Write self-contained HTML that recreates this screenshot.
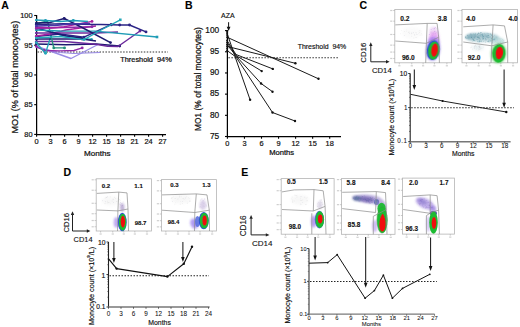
<!DOCTYPE html>
<html><head><meta charset="utf-8"><title>Figure</title>
<style>html,body{margin:0;padding:0;background:#fff;width:520px;height:327px;overflow:hidden}svg{display:block}text{font-family:"Liberation Sans",sans-serif}</style>
</head><body>
<svg width="520" height="327" viewBox="0 0 520 327" font-family='"Liberation Sans", sans-serif'>
<defs><filter id="b0" x="-60%" y="-60%" width="220%" height="220%"><feGaussianBlur stdDeviation="1.50"/></filter><filter id="b1" x="-60%" y="-60%" width="220%" height="220%"><feGaussianBlur stdDeviation="1.20"/></filter><filter id="b2" x="-60%" y="-60%" width="220%" height="220%"><feGaussianBlur stdDeviation="1.00"/></filter><filter id="b3" x="-60%" y="-60%" width="220%" height="220%"><feGaussianBlur stdDeviation="0.90"/></filter><filter id="b4" x="-60%" y="-60%" width="220%" height="220%"><feGaussianBlur stdDeviation="0.80"/></filter><filter id="b5" x="-60%" y="-60%" width="220%" height="220%"><feGaussianBlur stdDeviation="0.60"/></filter><filter id="b6" x="-60%" y="-60%" width="220%" height="220%"><feGaussianBlur stdDeviation="0.50"/></filter><filter id="b7" x="-60%" y="-60%" width="220%" height="220%"><feGaussianBlur stdDeviation="0.45"/></filter><filter id="b8" x="-60%" y="-60%" width="220%" height="220%"><feGaussianBlur stdDeviation="1.30"/></filter><filter id="b9" x="-60%" y="-60%" width="220%" height="220%"><feGaussianBlur stdDeviation="0.40"/></filter><filter id="b10" x="-60%" y="-60%" width="220%" height="220%"><feGaussianBlur stdDeviation="0.70"/></filter><filter id="b11" x="-60%" y="-60%" width="220%" height="220%"><feGaussianBlur stdDeviation="1.10"/></filter></defs>
<rect width="520" height="327" fill="#fff"/>
<text x="1.20" y="9.40" font-size="10.5" text-anchor="start" font-weight="bold" fill="#000" stroke="#000" stroke-width="0.12" >A</text>
<line x1="36.60" y1="15.00" x2="36.60" y2="135.10" stroke="#000" stroke-width="1.25" />
<line x1="36.00" y1="134.50" x2="166.00" y2="134.50" stroke="#000" stroke-width="1.25" />
<line x1="34.20" y1="15.50" x2="36.60" y2="15.50" stroke="#000" stroke-width="1.1" />
<text x="32.60" y="18.00" font-size="7.4" text-anchor="end" font-weight="normal" fill="#111" stroke="#111" stroke-width="0.2" >100</text>
<line x1="34.20" y1="45.23" x2="36.60" y2="45.23" stroke="#000" stroke-width="1.1" />
<text x="32.60" y="47.73" font-size="7.4" text-anchor="end" font-weight="normal" fill="#111" stroke="#111" stroke-width="0.2" >95</text>
<line x1="34.20" y1="74.95" x2="36.60" y2="74.95" stroke="#000" stroke-width="1.1" />
<text x="32.60" y="77.45" font-size="7.4" text-anchor="end" font-weight="normal" fill="#111" stroke="#111" stroke-width="0.2" >90</text>
<line x1="34.20" y1="104.68" x2="36.60" y2="104.68" stroke="#000" stroke-width="1.1" />
<text x="32.60" y="107.18" font-size="7.4" text-anchor="end" font-weight="normal" fill="#111" stroke="#111" stroke-width="0.2" >85</text>
<line x1="34.20" y1="134.40" x2="36.60" y2="134.40" stroke="#000" stroke-width="1.1" />
<text x="32.60" y="136.90" font-size="7.4" text-anchor="end" font-weight="normal" fill="#111" stroke="#111" stroke-width="0.2" >80</text>
<line x1="36.60" y1="134.50" x2="36.60" y2="136.70" stroke="#000" stroke-width="1.1" />
<text x="36.60" y="143.60" font-size="7.4" text-anchor="middle" font-weight="normal" fill="#111" stroke="#111" stroke-width="0.2" >0</text>
<line x1="50.60" y1="134.50" x2="50.60" y2="136.70" stroke="#000" stroke-width="1.1" />
<text x="50.60" y="143.60" font-size="7.4" text-anchor="middle" font-weight="normal" fill="#111" stroke="#111" stroke-width="0.2" >3</text>
<line x1="64.60" y1="134.50" x2="64.60" y2="136.70" stroke="#000" stroke-width="1.1" />
<text x="64.60" y="143.60" font-size="7.4" text-anchor="middle" font-weight="normal" fill="#111" stroke="#111" stroke-width="0.2" >6</text>
<line x1="78.60" y1="134.50" x2="78.60" y2="136.70" stroke="#000" stroke-width="1.1" />
<text x="78.60" y="143.60" font-size="7.4" text-anchor="middle" font-weight="normal" fill="#111" stroke="#111" stroke-width="0.2" >9</text>
<line x1="92.60" y1="134.50" x2="92.60" y2="136.70" stroke="#000" stroke-width="1.1" />
<text x="92.60" y="143.60" font-size="7.4" text-anchor="middle" font-weight="normal" fill="#111" stroke="#111" stroke-width="0.2" >12</text>
<line x1="106.60" y1="134.50" x2="106.60" y2="136.70" stroke="#000" stroke-width="1.1" />
<text x="106.60" y="143.60" font-size="7.4" text-anchor="middle" font-weight="normal" fill="#111" stroke="#111" stroke-width="0.2" >15</text>
<line x1="120.60" y1="134.50" x2="120.60" y2="136.70" stroke="#000" stroke-width="1.1" />
<text x="120.60" y="143.60" font-size="7.4" text-anchor="middle" font-weight="normal" fill="#111" stroke="#111" stroke-width="0.2" >18</text>
<line x1="134.60" y1="134.50" x2="134.60" y2="136.70" stroke="#000" stroke-width="1.1" />
<text x="134.60" y="143.60" font-size="7.4" text-anchor="middle" font-weight="normal" fill="#111" stroke="#111" stroke-width="0.2" >21</text>
<line x1="148.60" y1="134.50" x2="148.60" y2="136.70" stroke="#000" stroke-width="1.1" />
<text x="148.60" y="143.60" font-size="7.4" text-anchor="middle" font-weight="normal" fill="#111" stroke="#111" stroke-width="0.2" >24</text>
<line x1="162.60" y1="134.50" x2="162.60" y2="136.70" stroke="#000" stroke-width="1.1" />
<text x="162.60" y="143.60" font-size="7.4" text-anchor="middle" font-weight="normal" fill="#111" stroke="#111" stroke-width="0.2" >27</text>
<text x="97.20" y="155.60" font-size="8.1" text-anchor="middle" font-weight="normal" fill="#111" stroke="#111" stroke-width="0.24" >Months</text>
<text transform="translate(15.00,77.20) rotate(-90)" x="0" y="0" font-size="9.1" text-anchor="middle" font-weight="normal" fill="#111" stroke="#111" stroke-width="0.24" dominant-baseline="central">MO1 (% of total monocytes)</text>
<line x1="37.60" y1="52.00" x2="168.00" y2="52.00" stroke="#333" stroke-width="1.1" stroke-dasharray="1.5 1.45"/>
<text x="120.30" y="62.10" font-size="7.35" text-anchor="start" font-weight="normal" fill="#111" stroke="#111" stroke-width="0.24" >Threshold&#160;&#160;94%</text>
<polyline points="36.00,46.00 71.00,58.50 98.00,44.50" fill="none" stroke="#9a8ce6" stroke-width="1.344" stroke-linejoin="round" />
<polyline points="36.00,47.50 60.00,52.50 74.00,53.50 100.00,52.50" fill="none" stroke="#9a8ce6" stroke-width="1.12" stroke-linejoin="round" />
<polyline points="36.00,44.00 66.00,44.80 96.00,44.00 119.70,46.00" fill="none" stroke="#1e1a70" stroke-width="1.4560000000000002" stroke-linejoin="round" />
<circle cx="36.30" cy="44.00" r="1.35" fill="#1e1a70"/>
<circle cx="119.70" cy="46.00" r="1.45" fill="#1e1a70"/>
<polyline points="36.00,41.50 64.00,41.50 96.00,44.20 107.50,46.20 118.00,46.50 140.00,31.00" fill="none" stroke="#6c2a9c" stroke-width="1.4560000000000002" stroke-linejoin="round" />
<circle cx="36.30" cy="41.50" r="1.35" fill="#6c2a9c"/>
<circle cx="140.00" cy="31.00" r="1.45" fill="#6c2a9c"/>
<polyline points="36.00,46.50 44.00,50.50 60.00,50.80 74.00,50.50 82.20,47.90" fill="none" stroke="#8f2aa8" stroke-width="1.344" stroke-linejoin="round" />
<circle cx="36.30" cy="46.50" r="1.35" fill="#8f2aa8"/>
<circle cx="44.00" cy="50.50" r="1.45" fill="#8f2aa8"/>
<circle cx="82.20" cy="47.90" r="1.45" fill="#8f2aa8"/>
<polyline points="36.00,42.50 45.50,53.20 52.30,31.80 60.00,35.00 91.50,39.50" fill="none" stroke="#24a7b8" stroke-width="1.344" stroke-linejoin="round" />
<circle cx="36.30" cy="42.50" r="1.35" fill="#24a7b8"/>
<circle cx="45.50" cy="53.20" r="1.45" fill="#24a7b8"/>
<circle cx="91.50" cy="39.50" r="1.45" fill="#24a7b8"/>
<polyline points="36.00,39.00 66.00,39.00 82.10,39.00 96.00,41.00" fill="none" stroke="#1e1a70" stroke-width="1.4560000000000002" stroke-linejoin="round" />
<circle cx="36.30" cy="39.00" r="1.35" fill="#1e1a70"/>
<circle cx="82.10" cy="39.00" r="1.45" fill="#1e1a70"/>
<polyline points="36.00,24.00 47.50,21.00 53.80,47.90 64.50,47.90" fill="none" stroke="#23907a" stroke-width="1.344" stroke-linejoin="round" />
<circle cx="36.30" cy="24.00" r="1.35" fill="#23907a"/>
<circle cx="53.80" cy="47.90" r="1.45" fill="#23907a"/>
<circle cx="64.50" cy="47.90" r="1.45" fill="#23907a"/>
<polyline points="36.00,36.50 60.00,34.00 84.00,37.10 111.10,24.70" fill="none" stroke="#2a2385" stroke-width="1.4560000000000002" stroke-linejoin="round" />
<circle cx="36.30" cy="36.50" r="1.35" fill="#2a2385"/>
<circle cx="84.00" cy="37.10" r="1.45" fill="#2a2385"/>
<circle cx="111.10" cy="24.70" r="1.45" fill="#2a2385"/>
<polyline points="36.00,36.00 50.00,34.00 66.00,30.00 80.00,28.00 96.00,26.00" fill="none" stroke="#a8209f" stroke-width="1.4560000000000002" stroke-linejoin="round" />
<circle cx="36.30" cy="36.00" r="1.35" fill="#a8209f"/>
<polyline points="36.00,33.00 66.00,33.00 96.00,33.00 118.00,32.00" fill="none" stroke="#6c2a9c" stroke-width="1.344" stroke-linejoin="round" />
<circle cx="36.30" cy="33.00" r="1.35" fill="#6c2a9c"/>
<polyline points="36.00,28.00 66.00,36.00 82.00,38.00" fill="none" stroke="#1e1a70" stroke-width="1.4560000000000002" stroke-linejoin="round" />
<circle cx="36.30" cy="28.00" r="1.35" fill="#1e1a70"/>
<polyline points="36.00,30.00 60.00,31.00 95.00,31.10 157.00,37.00" fill="none" stroke="#1f9cb6" stroke-width="1.344" stroke-linejoin="round" />
<circle cx="36.30" cy="30.00" r="1.35" fill="#1f9cb6"/>
<rect x="155.70" y="35.70" width="2.6" height="2.6" fill="#1f9cb6"/>
<polyline points="36.00,28.50 64.00,27.50 92.00,26.70" fill="none" stroke="#8f2aa8" stroke-width="1.4560000000000002" stroke-linejoin="round" />
<circle cx="36.30" cy="28.50" r="1.35" fill="#8f2aa8"/>
<circle cx="92.00" cy="26.70" r="1.45" fill="#8f2aa8"/>
<polyline points="36.00,27.00 50.00,28.00 64.00,26.70 92.00,21.40" fill="none" stroke="#a8209f" stroke-width="1.4560000000000002" stroke-linejoin="round" />
<circle cx="36.30" cy="27.00" r="1.35" fill="#a8209f"/>
<circle cx="92.00" cy="21.40" r="1.45" fill="#a8209f"/>
<polyline points="36.00,24.50 64.00,23.80 94.00,24.40 101.00,24.40 111.10,24.80 119.70,25.00 129.50,25.00 146.00,31.90" fill="none" stroke="#2a2385" stroke-width="1.4560000000000002" stroke-linejoin="round" />
<circle cx="36.30" cy="24.50" r="1.35" fill="#2a2385"/>
<circle cx="111.10" cy="24.80" r="1.45" fill="#2a2385"/>
<circle cx="119.70" cy="25.00" r="1.45" fill="#2a2385"/>
<circle cx="129.50" cy="25.00" r="1.45" fill="#2a2385"/>
<circle cx="146.00" cy="31.90" r="1.45" fill="#2a2385"/>
<polyline points="36.00,23.00 50.00,22.50 64.20,18.50 84.00,28.50 110.50,42.60" fill="none" stroke="#1e1a70" stroke-width="1.568" stroke-linejoin="round" />
<circle cx="36.30" cy="23.00" r="1.35" fill="#1e1a70"/>
<circle cx="64.20" cy="18.50" r="1.45" fill="#1e1a70"/>
<circle cx="110.50" cy="42.60" r="1.45" fill="#1e1a70"/>
<polyline points="36.00,26.00 55.00,25.50 70.00,24.00 90.00,23.50" fill="none" stroke="#4a35a8" stroke-width="1.344" stroke-linejoin="round" />
<circle cx="36.30" cy="26.00" r="1.35" fill="#4a35a8"/>
<polyline points="36.00,20.00 45.50,20.40 60.00,21.50 73.30,20.40 88.00,21.50" fill="none" stroke="#1f9cb6" stroke-width="1.4560000000000002" stroke-linejoin="round" />
<circle cx="36.30" cy="20.00" r="1.35" fill="#1f9cb6"/>
<circle cx="45.50" cy="20.40" r="1.45" fill="#1f9cb6"/>
<circle cx="73.30" cy="20.40" r="1.45" fill="#1f9cb6"/>
<polyline points="36.00,38.00 60.00,36.50 84.00,39.60 102.00,29.50 120.30,19.80" fill="none" stroke="#24a7b8" stroke-width="1.344" stroke-linejoin="round" />
<circle cx="36.30" cy="38.00" r="1.35" fill="#24a7b8"/>
<circle cx="84.00" cy="39.60" r="1.45" fill="#24a7b8"/>
<rect x="119.00" y="18.50" width="2.6" height="2.6" fill="#24a7b8"/>
<text x="185.00" y="9.40" font-size="10.5" text-anchor="start" font-weight="bold" fill="#000" stroke="#000" stroke-width="0.12" >B</text>
<line x1="227.40" y1="30.10" x2="227.40" y2="137.10" stroke="#000" stroke-width="1.25" />
<line x1="226.80" y1="136.50" x2="341.00" y2="136.50" stroke="#000" stroke-width="1.25" />
<line x1="225.00" y1="30.60" x2="227.40" y2="30.60" stroke="#000" stroke-width="1.1" />
<text x="219.20" y="32.90" font-size="8.3" text-anchor="end" font-weight="normal" fill="#111" stroke="#111" stroke-width="0.2" >100</text>
<line x1="225.00" y1="51.78" x2="227.40" y2="51.78" stroke="#000" stroke-width="1.1" />
<text x="219.20" y="54.08" font-size="8.3" text-anchor="end" font-weight="normal" fill="#111" stroke="#111" stroke-width="0.2" >95</text>
<line x1="225.00" y1="72.96" x2="227.40" y2="72.96" stroke="#000" stroke-width="1.1" />
<text x="219.20" y="75.26" font-size="8.3" text-anchor="end" font-weight="normal" fill="#111" stroke="#111" stroke-width="0.2" >90</text>
<line x1="225.00" y1="94.14" x2="227.40" y2="94.14" stroke="#000" stroke-width="1.1" />
<text x="219.20" y="96.44" font-size="8.3" text-anchor="end" font-weight="normal" fill="#111" stroke="#111" stroke-width="0.2" >85</text>
<line x1="225.00" y1="115.32" x2="227.40" y2="115.32" stroke="#000" stroke-width="1.1" />
<text x="219.20" y="117.62" font-size="8.3" text-anchor="end" font-weight="normal" fill="#111" stroke="#111" stroke-width="0.2" >80</text>
<line x1="225.00" y1="136.50" x2="227.40" y2="136.50" stroke="#000" stroke-width="1.1" />
<text x="219.20" y="138.80" font-size="8.3" text-anchor="end" font-weight="normal" fill="#111" stroke="#111" stroke-width="0.2" >75</text>
<line x1="227.40" y1="136.50" x2="227.40" y2="138.70" stroke="#000" stroke-width="1.1" />
<text x="227.40" y="145.80" font-size="7.4" text-anchor="middle" font-weight="normal" fill="#111" stroke="#111" stroke-width="0.2" >0</text>
<line x1="244.45" y1="136.50" x2="244.45" y2="138.70" stroke="#000" stroke-width="1.1" />
<text x="244.45" y="145.80" font-size="7.4" text-anchor="middle" font-weight="normal" fill="#111" stroke="#111" stroke-width="0.2" >3</text>
<line x1="261.50" y1="136.50" x2="261.50" y2="138.70" stroke="#000" stroke-width="1.1" />
<text x="261.50" y="145.80" font-size="7.4" text-anchor="middle" font-weight="normal" fill="#111" stroke="#111" stroke-width="0.2" >6</text>
<line x1="278.55" y1="136.50" x2="278.55" y2="138.70" stroke="#000" stroke-width="1.1" />
<text x="278.55" y="145.80" font-size="7.4" text-anchor="middle" font-weight="normal" fill="#111" stroke="#111" stroke-width="0.2" >9</text>
<line x1="295.60" y1="136.50" x2="295.60" y2="138.70" stroke="#000" stroke-width="1.1" />
<text x="295.60" y="145.80" font-size="7.4" text-anchor="middle" font-weight="normal" fill="#111" stroke="#111" stroke-width="0.2" >12</text>
<line x1="312.65" y1="136.50" x2="312.65" y2="138.70" stroke="#000" stroke-width="1.1" />
<text x="312.65" y="145.80" font-size="7.4" text-anchor="middle" font-weight="normal" fill="#111" stroke="#111" stroke-width="0.2" >15</text>
<line x1="329.70" y1="136.50" x2="329.70" y2="138.70" stroke="#000" stroke-width="1.1" />
<text x="329.70" y="145.80" font-size="7.4" text-anchor="middle" font-weight="normal" fill="#111" stroke="#111" stroke-width="0.2" >18</text>
<text x="281.60" y="155.30" font-size="7.6" text-anchor="middle" font-weight="normal" fill="#111" stroke="#111" stroke-width="0.24" >Months</text>
<text transform="translate(198.40,79.00) rotate(-90)" x="0" y="0" font-size="8.4" text-anchor="middle" font-weight="normal" fill="#111" stroke="#111" stroke-width="0.24" dominant-baseline="central">MO1 (% of total monocytes)</text>
<text x="227.90" y="17.50" font-size="7.0" text-anchor="middle" font-weight="normal" fill="#111" stroke="#111" stroke-width="0.15" >AZA</text>
<line x1="228.60" y1="22.20" x2="228.60" y2="27.20" stroke="#111" stroke-width="1" />
<polygon points="226.70,26.70 230.50,26.70 228.60,30.90" fill="#111"/>
<line x1="228.40" y1="57.80" x2="339.00" y2="57.80" stroke="#333" stroke-width="1.1" stroke-dasharray="1.5 1.5"/>
<text x="297.70" y="49.00" font-size="6.95" text-anchor="start" font-weight="normal" fill="#111" stroke="#111" stroke-width="0.15" >Threshold&#160;&#160;94%</text>
<polyline points="227.00,37.20 318.50,78.80" fill="none" stroke="#1a1a1a" stroke-width="1.0" stroke-linejoin="round" />
<circle cx="318.50" cy="78.80" r="1.2" fill="#111"/>
<polyline points="227.00,46.40 295.40,63.30" fill="none" stroke="#1a1a1a" stroke-width="1.0" stroke-linejoin="round" />
<circle cx="295.40" cy="63.30" r="1.2" fill="#111"/>
<polyline points="227.00,40.50 236.00,54.50 272.80,68.90" fill="none" stroke="#1a1a1a" stroke-width="1.0" stroke-linejoin="round" />
<circle cx="272.80" cy="68.90" r="1.2" fill="#111"/>
<polyline points="227.00,42.50 236.00,55.50 261.70,71.10" fill="none" stroke="#1a1a1a" stroke-width="1.0" stroke-linejoin="round" />
<circle cx="261.70" cy="71.10" r="1.2" fill="#111"/>
<polyline points="227.00,44.50 236.50,56.50 261.10,83.50 272.50,91.70" fill="none" stroke="#1a1a1a" stroke-width="1.0" stroke-linejoin="round" />
<circle cx="261.10" cy="83.50" r="1.2" fill="#111"/>
<circle cx="272.50" cy="91.70" r="1.2" fill="#111"/>
<polyline points="227.00,33.00 235.00,56.50 250.10,99.80" fill="none" stroke="#1a1a1a" stroke-width="1.0" stroke-linejoin="round" />
<circle cx="250.10" cy="99.80" r="1.2" fill="#111"/>
<polyline points="227.00,50.50 236.00,57.00 272.50,112.50 295.00,121.00" fill="none" stroke="#1a1a1a" stroke-width="1.0" stroke-linejoin="round" />
<circle cx="272.50" cy="112.50" r="1.2" fill="#111"/>
<circle cx="295.00" cy="121.00" r="1.2" fill="#111"/>
<circle cx="227.20" cy="31.50" r="1.05" fill="#111"/>
<circle cx="227.20" cy="33.00" r="1.05" fill="#111"/>
<circle cx="227.20" cy="35.00" r="1.05" fill="#111"/>
<circle cx="227.20" cy="37.20" r="1.05" fill="#111"/>
<circle cx="227.20" cy="40.50" r="1.05" fill="#111"/>
<circle cx="227.20" cy="42.50" r="1.05" fill="#111"/>
<circle cx="227.20" cy="44.50" r="1.05" fill="#111"/>
<circle cx="227.20" cy="46.40" r="1.05" fill="#111"/>
<circle cx="227.20" cy="48.50" r="1.05" fill="#111"/>
<circle cx="227.20" cy="50.50" r="1.05" fill="#111"/>
<text x="359.40" y="9.40" font-size="10.5" text-anchor="start" font-weight="bold" fill="#000" stroke="#000" stroke-width="0.12" >C</text>
<rect x="394.80" y="9.50" width="56.60" height="53.30" fill="#fff" stroke="#b4b4b4" stroke-width="0.8"/>
<line x1="393.20" y1="10.50" x2="394.80" y2="10.50" stroke="#aaa" stroke-width="0.6" />
<rect x="390.20" y="9.90" width="2.2" height="1.2" fill="#cfcfcf"/>
<line x1="393.20" y1="21.16" x2="394.80" y2="21.16" stroke="#aaa" stroke-width="0.6" />
<rect x="390.20" y="20.56" width="2.2" height="1.2" fill="#cfcfcf"/>
<line x1="393.20" y1="34.48" x2="394.80" y2="34.48" stroke="#aaa" stroke-width="0.6" />
<rect x="390.20" y="33.88" width="2.2" height="1.2" fill="#cfcfcf"/>
<line x1="393.20" y1="45.14" x2="394.80" y2="45.14" stroke="#aaa" stroke-width="0.6" />
<rect x="390.20" y="44.54" width="2.2" height="1.2" fill="#cfcfcf"/>
<line x1="393.20" y1="52.07" x2="394.80" y2="52.07" stroke="#aaa" stroke-width="0.6" />
<rect x="390.20" y="51.47" width="2.2" height="1.2" fill="#cfcfcf"/>
<line x1="393.20" y1="58.47" x2="394.80" y2="58.47" stroke="#aaa" stroke-width="0.6" />
<rect x="390.20" y="57.87" width="2.2" height="1.2" fill="#cfcfcf"/>
<line x1="399.33" y1="62.80" x2="399.33" y2="64.40" stroke="#aaa" stroke-width="0.6" />
<rect x="398.23" y="65.20" width="2.2" height="1.2" fill="#cfcfcf"/>
<line x1="411.78" y1="62.80" x2="411.78" y2="64.40" stroke="#aaa" stroke-width="0.6" />
<rect x="410.68" y="65.20" width="2.2" height="1.2" fill="#cfcfcf"/>
<line x1="423.10" y1="62.80" x2="423.10" y2="64.40" stroke="#aaa" stroke-width="0.6" />
<rect x="422.00" y="65.20" width="2.2" height="1.2" fill="#cfcfcf"/>
<line x1="434.42" y1="62.80" x2="434.42" y2="64.40" stroke="#aaa" stroke-width="0.6" />
<rect x="433.32" y="65.20" width="2.2" height="1.2" fill="#cfcfcf"/>
<line x1="446.87" y1="62.80" x2="446.87" y2="64.40" stroke="#aaa" stroke-width="0.6" />
<rect x="445.77" y="65.20" width="2.2" height="1.2" fill="#cfcfcf"/>
<ellipse cx="412.00" cy="33.00" rx="10.00" ry="6.00" transform="rotate(0 412.00 33.00)" fill="#dcdcdc" opacity="0.13" filter="url(#b0)"/>
<ellipse cx="433.50" cy="31.50" rx="4.50" ry="5.00" transform="rotate(5 433.50 31.50)" fill="#e8c8f0" opacity="0.6" filter="url(#b1)"/>
<ellipse cx="434.00" cy="37.50" rx="5.20" ry="6.00" transform="rotate(10 434.00 37.50)" fill="#e49af0" opacity="0.7" filter="url(#b2)"/>
<ellipse cx="433.60" cy="42.50" rx="6.00" ry="6.00" transform="rotate(10 433.60 42.50)" fill="#a87cf0" opacity="0.75" filter="url(#b3)"/>
<ellipse cx="433.00" cy="50.00" rx="7.20" ry="10.80" transform="rotate(8 433.00 50.00)" fill="#8a72e6" opacity="0.7" filter="url(#b4)"/>
<ellipse cx="433.20" cy="50.20" rx="6.40" ry="10.00" transform="rotate(8 433.20 50.20)" fill="#2f4fd8" opacity="1" filter="url(#b5)"/>
<ellipse cx="433.80" cy="50.60" rx="5.60" ry="9.20" transform="rotate(8 433.80 50.60)" fill="#1cbb30" opacity="1" filter="url(#b6)"/>
<ellipse cx="434.60" cy="50.20" rx="3.20" ry="6.60" transform="rotate(8 434.60 50.20)" fill="#f01010" opacity="1" filter="url(#b7)"/>
<polyline points="395.30,24.90 427.20,23.40 426.40,43.30 395.30,41.00" fill="none" stroke="#8a8a8a" stroke-width="0.7" stroke-linejoin="round" />
<polyline points="427.20,23.40 437.10,23.40 438.70,37.20 439.40,62.80" fill="none" stroke="#8a8a8a" stroke-width="0.7" stroke-linejoin="round" />
<polyline points="426.40,43.30 438.70,37.20" fill="none" stroke="#8a8a8a" stroke-width="0.7" stroke-linejoin="round" />
<polyline points="426.40,43.30 425.70,62.80" fill="none" stroke="#8a8a8a" stroke-width="0.7" stroke-linejoin="round" />
<text x="400.25" y="21.10" font-size="6.6" text-anchor="start" font-weight="bold" fill="#111" stroke="#111" stroke-width="0.12" >0.2</text>
<text x="437.85" y="21.10" font-size="6.6" text-anchor="start" font-weight="bold" fill="#111" stroke="#111" stroke-width="0.12" >3.8</text>
<text x="401.95" y="60.10" font-size="6.6" text-anchor="start" font-weight="bold" fill="#111" stroke="#111" stroke-width="0.12" >96.0</text>
<rect x="462.00" y="9.50" width="55.50" height="53.30" fill="#fff" stroke="#b4b4b4" stroke-width="0.8"/>
<line x1="460.40" y1="10.50" x2="462.00" y2="10.50" stroke="#aaa" stroke-width="0.6" />
<rect x="457.40" y="9.90" width="2.2" height="1.2" fill="#cfcfcf"/>
<line x1="460.40" y1="21.16" x2="462.00" y2="21.16" stroke="#aaa" stroke-width="0.6" />
<rect x="457.40" y="20.56" width="2.2" height="1.2" fill="#cfcfcf"/>
<line x1="460.40" y1="34.48" x2="462.00" y2="34.48" stroke="#aaa" stroke-width="0.6" />
<rect x="457.40" y="33.88" width="2.2" height="1.2" fill="#cfcfcf"/>
<line x1="460.40" y1="45.14" x2="462.00" y2="45.14" stroke="#aaa" stroke-width="0.6" />
<rect x="457.40" y="44.54" width="2.2" height="1.2" fill="#cfcfcf"/>
<line x1="460.40" y1="52.07" x2="462.00" y2="52.07" stroke="#aaa" stroke-width="0.6" />
<rect x="457.40" y="51.47" width="2.2" height="1.2" fill="#cfcfcf"/>
<line x1="460.40" y1="58.47" x2="462.00" y2="58.47" stroke="#aaa" stroke-width="0.6" />
<rect x="457.40" y="57.87" width="2.2" height="1.2" fill="#cfcfcf"/>
<line x1="466.44" y1="62.80" x2="466.44" y2="64.40" stroke="#aaa" stroke-width="0.6" />
<rect x="465.34" y="65.20" width="2.2" height="1.2" fill="#cfcfcf"/>
<line x1="478.65" y1="62.80" x2="478.65" y2="64.40" stroke="#aaa" stroke-width="0.6" />
<rect x="477.55" y="65.20" width="2.2" height="1.2" fill="#cfcfcf"/>
<line x1="489.75" y1="62.80" x2="489.75" y2="64.40" stroke="#aaa" stroke-width="0.6" />
<rect x="488.65" y="65.20" width="2.2" height="1.2" fill="#cfcfcf"/>
<line x1="500.85" y1="62.80" x2="500.85" y2="64.40" stroke="#aaa" stroke-width="0.6" />
<rect x="499.75" y="65.20" width="2.2" height="1.2" fill="#cfcfcf"/>
<line x1="513.06" y1="62.80" x2="513.06" y2="64.40" stroke="#aaa" stroke-width="0.6" />
<rect x="511.96" y="65.20" width="2.2" height="1.2" fill="#cfcfcf"/>
<ellipse cx="482.00" cy="37.50" rx="17.00" ry="4.80" transform="rotate(0 482.00 37.50)" fill="#8fb8c2" opacity="0.55" filter="url(#b8)"/>
<ellipse cx="472.00" cy="36.50" rx="6.00" ry="3.00" transform="rotate(0 472.00 36.50)" fill="#5e94a6" opacity="0.5" filter="url(#b2)"/>
<ellipse cx="484.00" cy="36.00" rx="6.00" ry="2.60" transform="rotate(0 484.00 36.00)" fill="#6fa2b2" opacity="0.45" filter="url(#b2)"/>
<ellipse cx="497.00" cy="40.50" rx="8.00" ry="3.40" transform="rotate(10 497.00 40.50)" fill="#93c4c6" opacity="0.5" filter="url(#b1)"/>
<ellipse cx="478.00" cy="47.50" rx="6.00" ry="3.00" transform="rotate(0 478.00 47.50)" fill="#cfe0e4" opacity="0.45" filter="url(#b0)"/>
<ellipse cx="498.60" cy="53.20" rx="8.00" ry="10.20" transform="rotate(5 498.60 53.20)" fill="#7ad47e" opacity="0.75" filter="url(#b3)"/>
<ellipse cx="498.90" cy="53.40" rx="6.60" ry="9.40" transform="rotate(5 498.90 53.40)" fill="#1cbb30" opacity="1" filter="url(#b6)"/>
<ellipse cx="499.40" cy="53.00" rx="3.60" ry="6.20" transform="rotate(8 499.40 53.00)" fill="#f01010" opacity="1" filter="url(#b7)"/>
<polyline points="463.30,26.80 493.10,24.90 491.80,45.80 463.30,42.00" fill="none" stroke="#8a8a8a" stroke-width="0.7" stroke-linejoin="round" />
<polyline points="493.10,24.90 504.50,25.90 507.70,42.00 507.70,62.80" fill="none" stroke="#8a8a8a" stroke-width="0.7" stroke-linejoin="round" />
<polyline points="491.80,45.80 507.70,42.00" fill="none" stroke="#8a8a8a" stroke-width="0.7" stroke-linejoin="round" />
<polyline points="491.80,45.80 491.00,62.80" fill="none" stroke="#8a8a8a" stroke-width="0.7" stroke-linejoin="round" />
<text x="466.35" y="20.90" font-size="6.6" text-anchor="start" font-weight="bold" fill="#111" stroke="#111" stroke-width="0.12" >4.0</text>
<text x="508.55" y="20.80" font-size="6.6" text-anchor="start" font-weight="bold" fill="#111" stroke="#111" stroke-width="0.12" >4.0</text>
<text x="467.65" y="59.70" font-size="6.6" text-anchor="start" font-weight="bold" fill="#111" stroke="#111" stroke-width="0.12" >92.0</text>
<rect x="96.20" y="178.80" width="55.20" height="52.20" fill="#fff" stroke="#b4b4b4" stroke-width="0.8"/>
<line x1="94.60" y1="179.80" x2="96.20" y2="179.80" stroke="#aaa" stroke-width="0.6" />
<rect x="91.60" y="179.20" width="2.2" height="1.2" fill="#cfcfcf"/>
<line x1="94.60" y1="190.24" x2="96.20" y2="190.24" stroke="#aaa" stroke-width="0.6" />
<rect x="91.60" y="189.64" width="2.2" height="1.2" fill="#cfcfcf"/>
<line x1="94.60" y1="203.29" x2="96.20" y2="203.29" stroke="#aaa" stroke-width="0.6" />
<rect x="91.60" y="202.69" width="2.2" height="1.2" fill="#cfcfcf"/>
<line x1="94.60" y1="213.73" x2="96.20" y2="213.73" stroke="#aaa" stroke-width="0.6" />
<rect x="91.60" y="213.13" width="2.2" height="1.2" fill="#cfcfcf"/>
<line x1="94.60" y1="220.52" x2="96.20" y2="220.52" stroke="#aaa" stroke-width="0.6" />
<rect x="91.60" y="219.92" width="2.2" height="1.2" fill="#cfcfcf"/>
<line x1="94.60" y1="226.78" x2="96.20" y2="226.78" stroke="#aaa" stroke-width="0.6" />
<rect x="91.60" y="226.18" width="2.2" height="1.2" fill="#cfcfcf"/>
<line x1="100.62" y1="231.00" x2="100.62" y2="232.60" stroke="#aaa" stroke-width="0.6" />
<rect x="99.52" y="233.40" width="2.2" height="1.2" fill="#cfcfcf"/>
<line x1="112.76" y1="231.00" x2="112.76" y2="232.60" stroke="#aaa" stroke-width="0.6" />
<rect x="111.66" y="233.40" width="2.2" height="1.2" fill="#cfcfcf"/>
<line x1="123.80" y1="231.00" x2="123.80" y2="232.60" stroke="#aaa" stroke-width="0.6" />
<rect x="122.70" y="233.40" width="2.2" height="1.2" fill="#cfcfcf"/>
<line x1="134.84" y1="231.00" x2="134.84" y2="232.60" stroke="#aaa" stroke-width="0.6" />
<rect x="133.74" y="233.40" width="2.2" height="1.2" fill="#cfcfcf"/>
<line x1="146.98" y1="231.00" x2="146.98" y2="232.60" stroke="#aaa" stroke-width="0.6" />
<rect x="145.88" y="233.40" width="2.2" height="1.2" fill="#cfcfcf"/>
<ellipse cx="111.00" cy="201.00" rx="9.00" ry="4.50" transform="rotate(0 111.00 201.00)" fill="#dcdcdc" opacity="0.2" filter="url(#b0)"/>
<ellipse cx="122.20" cy="207.50" rx="2.20" ry="4.20" transform="rotate(0 122.20 207.50)" fill="#a894c8" opacity="0.7" filter="url(#b4)"/>
<ellipse cx="116.30" cy="222.50" rx="2.60" ry="5.20" transform="rotate(0 116.30 222.50)" fill="#b8a0f0" opacity="0.9" filter="url(#b4)"/>
<ellipse cx="122.30" cy="222.00" rx="4.40" ry="9.30" transform="rotate(0 122.30 222.00)" fill="#2f4fd8" opacity="1" filter="url(#b6)"/>
<ellipse cx="122.60" cy="222.20" rx="3.70" ry="8.50" transform="rotate(0 122.60 222.20)" fill="#1cbb30" opacity="1" filter="url(#b6)"/>
<ellipse cx="122.90" cy="221.60" rx="2.20" ry="5.80" transform="rotate(0 122.90 221.60)" fill="#f01010" opacity="1" filter="url(#b9)"/>
<polyline points="96.80,193.40 118.80,192.10 117.90,210.90 96.80,210.00" fill="none" stroke="#8a8a8a" stroke-width="0.7" stroke-linejoin="round" />
<polyline points="118.80,192.10 127.00,192.90 128.00,209.00 128.50,231.00" fill="none" stroke="#8a8a8a" stroke-width="0.7" stroke-linejoin="round" />
<polyline points="117.90,210.90 128.00,209.00" fill="none" stroke="#8a8a8a" stroke-width="0.7" stroke-linejoin="round" />
<polyline points="117.90,210.90 117.50,231.00" fill="none" stroke="#8a8a8a" stroke-width="0.7" stroke-linejoin="round" />
<text x="101.75" y="187.50" font-size="6.1" text-anchor="start" font-weight="bold" fill="#111" stroke="#111" stroke-width="0.12" >0.2</text>
<text x="134.35" y="187.50" font-size="6.1" text-anchor="start" font-weight="bold" fill="#111" stroke="#111" stroke-width="0.12" >1.1</text>
<text x="134.65" y="224.90" font-size="6.1" text-anchor="start" font-weight="bold" fill="#111" stroke="#111" stroke-width="0.12" >98.7</text>
<rect x="161.40" y="179.60" width="55.20" height="51.40" fill="#fff" stroke="#b4b4b4" stroke-width="0.8"/>
<line x1="159.80" y1="180.60" x2="161.40" y2="180.60" stroke="#aaa" stroke-width="0.6" />
<rect x="156.80" y="180.00" width="2.2" height="1.2" fill="#cfcfcf"/>
<line x1="159.80" y1="190.88" x2="161.40" y2="190.88" stroke="#aaa" stroke-width="0.6" />
<rect x="156.80" y="190.28" width="2.2" height="1.2" fill="#cfcfcf"/>
<line x1="159.80" y1="203.73" x2="161.40" y2="203.73" stroke="#aaa" stroke-width="0.6" />
<rect x="156.80" y="203.13" width="2.2" height="1.2" fill="#cfcfcf"/>
<line x1="159.80" y1="214.01" x2="161.40" y2="214.01" stroke="#aaa" stroke-width="0.6" />
<rect x="156.80" y="213.41" width="2.2" height="1.2" fill="#cfcfcf"/>
<line x1="159.80" y1="220.69" x2="161.40" y2="220.69" stroke="#aaa" stroke-width="0.6" />
<rect x="156.80" y="220.09" width="2.2" height="1.2" fill="#cfcfcf"/>
<line x1="159.80" y1="226.86" x2="161.40" y2="226.86" stroke="#aaa" stroke-width="0.6" />
<rect x="156.80" y="226.26" width="2.2" height="1.2" fill="#cfcfcf"/>
<line x1="165.82" y1="231.00" x2="165.82" y2="232.60" stroke="#aaa" stroke-width="0.6" />
<rect x="164.72" y="233.40" width="2.2" height="1.2" fill="#cfcfcf"/>
<line x1="177.96" y1="231.00" x2="177.96" y2="232.60" stroke="#aaa" stroke-width="0.6" />
<rect x="176.86" y="233.40" width="2.2" height="1.2" fill="#cfcfcf"/>
<line x1="189.00" y1="231.00" x2="189.00" y2="232.60" stroke="#aaa" stroke-width="0.6" />
<rect x="187.90" y="233.40" width="2.2" height="1.2" fill="#cfcfcf"/>
<line x1="200.04" y1="231.00" x2="200.04" y2="232.60" stroke="#aaa" stroke-width="0.6" />
<rect x="198.94" y="233.40" width="2.2" height="1.2" fill="#cfcfcf"/>
<line x1="212.18" y1="231.00" x2="212.18" y2="232.60" stroke="#aaa" stroke-width="0.6" />
<rect x="211.08" y="233.40" width="2.2" height="1.2" fill="#cfcfcf"/>
<ellipse cx="181.00" cy="199.00" rx="10.00" ry="4.50" transform="rotate(0 181.00 199.00)" fill="#dcdcdc" opacity="0.22" filter="url(#b0)"/>
<ellipse cx="203.00" cy="205.00" rx="3.50" ry="5.00" transform="rotate(0 203.00 205.00)" fill="#c4b4dc" opacity="0.6" filter="url(#b2)"/>
<ellipse cx="194.20" cy="223.50" rx="3.80" ry="5.20" transform="rotate(-20 194.20 223.50)" fill="#a890f0" opacity="0.9" filter="url(#b4)"/>
<ellipse cx="197.50" cy="221.50" rx="2.50" ry="5.50" transform="rotate(0 197.50 221.50)" fill="#5a70e0" opacity="0.9" filter="url(#b5)"/>
<ellipse cx="203.80" cy="220.60" rx="5.00" ry="8.60" transform="rotate(0 203.80 220.60)" fill="#2f4fd8" opacity="1" filter="url(#b6)"/>
<ellipse cx="204.20" cy="220.60" rx="4.40" ry="7.90" transform="rotate(0 204.20 220.60)" fill="#1cbb30" opacity="1" filter="url(#b6)"/>
<ellipse cx="204.60" cy="220.60" rx="2.20" ry="5.00" transform="rotate(0 204.60 220.60)" fill="#f01010" opacity="1" filter="url(#b9)"/>
<polyline points="162.00,194.90 196.30,193.90 194.80,212.50 162.00,210.20" fill="none" stroke="#8a8a8a" stroke-width="0.7" stroke-linejoin="round" />
<polyline points="196.30,193.90 207.00,194.90 209.30,210.20 209.50,231.00" fill="none" stroke="#8a8a8a" stroke-width="0.7" stroke-linejoin="round" />
<polyline points="194.80,212.50 209.30,210.20" fill="none" stroke="#8a8a8a" stroke-width="0.7" stroke-linejoin="round" />
<polyline points="194.80,212.50 194.50,231.00" fill="none" stroke="#8a8a8a" stroke-width="0.7" stroke-linejoin="round" />
<text x="170.15" y="187.30" font-size="6.0" text-anchor="start" font-weight="bold" fill="#111" stroke="#111" stroke-width="0.12" >0.3</text>
<text x="202.15" y="187.30" font-size="6.0" text-anchor="start" font-weight="bold" fill="#111" stroke="#111" stroke-width="0.12" >1.3</text>
<text x="167.65" y="223.70" font-size="6.0" text-anchor="start" font-weight="bold" fill="#111" stroke="#111" stroke-width="0.12" >98.4</text>
<rect x="281.20" y="178.60" width="52.90" height="55.60" fill="#fff" stroke="#b4b4b4" stroke-width="0.8"/>
<line x1="279.60" y1="179.60" x2="281.20" y2="179.60" stroke="#aaa" stroke-width="0.6" />
<rect x="276.60" y="179.00" width="2.2" height="1.2" fill="#cfcfcf"/>
<line x1="279.60" y1="190.72" x2="281.20" y2="190.72" stroke="#aaa" stroke-width="0.6" />
<rect x="276.60" y="190.12" width="2.2" height="1.2" fill="#cfcfcf"/>
<line x1="279.60" y1="204.62" x2="281.20" y2="204.62" stroke="#aaa" stroke-width="0.6" />
<rect x="276.60" y="204.02" width="2.2" height="1.2" fill="#cfcfcf"/>
<line x1="279.60" y1="215.74" x2="281.20" y2="215.74" stroke="#aaa" stroke-width="0.6" />
<rect x="276.60" y="215.14" width="2.2" height="1.2" fill="#cfcfcf"/>
<line x1="279.60" y1="222.97" x2="281.20" y2="222.97" stroke="#aaa" stroke-width="0.6" />
<rect x="276.60" y="222.37" width="2.2" height="1.2" fill="#cfcfcf"/>
<line x1="279.60" y1="229.64" x2="281.20" y2="229.64" stroke="#aaa" stroke-width="0.6" />
<rect x="276.60" y="229.04" width="2.2" height="1.2" fill="#cfcfcf"/>
<line x1="285.43" y1="234.20" x2="285.43" y2="235.80" stroke="#aaa" stroke-width="0.6" />
<rect x="284.33" y="236.60" width="2.2" height="1.2" fill="#cfcfcf"/>
<line x1="297.07" y1="234.20" x2="297.07" y2="235.80" stroke="#aaa" stroke-width="0.6" />
<rect x="295.97" y="236.60" width="2.2" height="1.2" fill="#cfcfcf"/>
<line x1="307.65" y1="234.20" x2="307.65" y2="235.80" stroke="#aaa" stroke-width="0.6" />
<rect x="306.55" y="236.60" width="2.2" height="1.2" fill="#cfcfcf"/>
<line x1="318.23" y1="234.20" x2="318.23" y2="235.80" stroke="#aaa" stroke-width="0.6" />
<rect x="317.13" y="236.60" width="2.2" height="1.2" fill="#cfcfcf"/>
<line x1="329.87" y1="234.20" x2="329.87" y2="235.80" stroke="#aaa" stroke-width="0.6" />
<rect x="328.77" y="236.60" width="2.2" height="1.2" fill="#cfcfcf"/>
<ellipse cx="300.00" cy="200.00" rx="9.00" ry="5.00" transform="rotate(0 300.00 200.00)" fill="#dcdcdc" opacity="0.2" filter="url(#b0)"/>
<ellipse cx="320.00" cy="205.00" rx="2.50" ry="4.00" transform="rotate(0 320.00 205.00)" fill="#c8c0d8" opacity="0.6" filter="url(#b2)"/>
<ellipse cx="313.60" cy="221.50" rx="2.60" ry="6.20" transform="rotate(0 313.60 221.50)" fill="#b090f0" opacity="0.9" filter="url(#b4)"/>
<ellipse cx="319.40" cy="219.60" rx="4.70" ry="8.80" transform="rotate(0 319.40 219.60)" fill="#4a5ad8" opacity="0.9" filter="url(#b5)"/>
<ellipse cx="319.80" cy="219.60" rx="4.30" ry="8.30" transform="rotate(0 319.80 219.60)" fill="#1cbb30" opacity="1" filter="url(#b6)"/>
<ellipse cx="320.20" cy="219.00" rx="2.30" ry="4.40" transform="rotate(0 320.20 219.00)" fill="#f01010" opacity="1" filter="url(#b9)"/>
<polyline points="282.00,191.90 294.20,189.90 314.00,189.60 313.30,211.00 282.00,209.50" fill="none" stroke="#8a8a8a" stroke-width="0.7" stroke-linejoin="round" />
<polyline points="314.00,189.60 323.20,190.80 325.10,206.40 326.00,234.20" fill="none" stroke="#8a8a8a" stroke-width="0.7" stroke-linejoin="round" />
<polyline points="313.30,211.00 325.10,206.40" fill="none" stroke="#8a8a8a" stroke-width="0.7" stroke-linejoin="round" />
<polyline points="311.80,213.30 311.80,234.20" fill="none" stroke="#8a8a8a" stroke-width="0.7" stroke-linejoin="round" />
<text x="287.05" y="184.30" font-size="6.3" text-anchor="start" font-weight="bold" fill="#111" stroke="#111" stroke-width="0.12" >0.5</text>
<text x="319.05" y="184.30" font-size="6.3" text-anchor="start" font-weight="bold" fill="#111" stroke="#111" stroke-width="0.12" >1.5</text>
<text x="288.75" y="228.70" font-size="6.3" text-anchor="start" font-weight="bold" fill="#111" stroke="#111" stroke-width="0.12" >98.0</text>
<rect x="341.50" y="178.60" width="53.50" height="55.70" fill="#fff" stroke="#b4b4b4" stroke-width="0.8"/>
<line x1="339.90" y1="179.60" x2="341.50" y2="179.60" stroke="#aaa" stroke-width="0.6" />
<rect x="336.90" y="179.00" width="2.2" height="1.2" fill="#cfcfcf"/>
<line x1="339.90" y1="190.74" x2="341.50" y2="190.74" stroke="#aaa" stroke-width="0.6" />
<rect x="336.90" y="190.14" width="2.2" height="1.2" fill="#cfcfcf"/>
<line x1="339.90" y1="204.66" x2="341.50" y2="204.66" stroke="#aaa" stroke-width="0.6" />
<rect x="336.90" y="204.06" width="2.2" height="1.2" fill="#cfcfcf"/>
<line x1="339.90" y1="215.81" x2="341.50" y2="215.81" stroke="#aaa" stroke-width="0.6" />
<rect x="336.90" y="215.21" width="2.2" height="1.2" fill="#cfcfcf"/>
<line x1="339.90" y1="223.05" x2="341.50" y2="223.05" stroke="#aaa" stroke-width="0.6" />
<rect x="336.90" y="222.45" width="2.2" height="1.2" fill="#cfcfcf"/>
<line x1="339.90" y1="229.73" x2="341.50" y2="229.73" stroke="#aaa" stroke-width="0.6" />
<rect x="336.90" y="229.13" width="2.2" height="1.2" fill="#cfcfcf"/>
<line x1="345.78" y1="234.30" x2="345.78" y2="235.90" stroke="#aaa" stroke-width="0.6" />
<rect x="344.68" y="236.70" width="2.2" height="1.2" fill="#cfcfcf"/>
<line x1="357.55" y1="234.30" x2="357.55" y2="235.90" stroke="#aaa" stroke-width="0.6" />
<rect x="356.45" y="236.70" width="2.2" height="1.2" fill="#cfcfcf"/>
<line x1="368.25" y1="234.30" x2="368.25" y2="235.90" stroke="#aaa" stroke-width="0.6" />
<rect x="367.15" y="236.70" width="2.2" height="1.2" fill="#cfcfcf"/>
<line x1="378.95" y1="234.30" x2="378.95" y2="235.90" stroke="#aaa" stroke-width="0.6" />
<rect x="377.85" y="236.70" width="2.2" height="1.2" fill="#cfcfcf"/>
<line x1="390.72" y1="234.30" x2="390.72" y2="235.90" stroke="#aaa" stroke-width="0.6" />
<rect x="389.62" y="236.70" width="2.2" height="1.2" fill="#cfcfcf"/>
<path d="M352,197.5 C355,194 366,194 374,195.5 C379,196.5 383,199 386,204 L386,212 C382,209 378,205 372,203.5 C364,202.5 356,202 352,197.5 Z" fill="#a898d4" opacity="0.75" filter="url(#b2)"/>
<ellipse cx="357.50" cy="198.50" rx="4.80" ry="2.30" transform="rotate(5 357.50 198.50)" fill="#4f6a96" opacity="0.85" filter="url(#b4)"/>
<ellipse cx="367.00" cy="199.60" rx="7.50" ry="2.80" transform="rotate(8 367.00 199.60)" fill="#6c5cac" opacity="0.75" filter="url(#b3)"/>
<ellipse cx="376.50" cy="202.00" rx="2.60" ry="3.00" transform="rotate(0 376.50 202.00)" fill="#5868b8" opacity="0.7" filter="url(#b10)"/>
<ellipse cx="381.60" cy="208.50" rx="4.20" ry="5.80" transform="rotate(0 381.60 208.50)" fill="#1cbb30" opacity="0.95" filter="url(#b10)"/>
<ellipse cx="374.80" cy="226.00" rx="2.60" ry="6.20" transform="rotate(0 374.80 226.00)" fill="#c4acf0" opacity="0.85" filter="url(#b4)"/>
<ellipse cx="382.00" cy="220.00" rx="5.60" ry="13.50" transform="rotate(0 382.00 220.00)" fill="#3a8a40" opacity="0.5" filter="url(#b5)"/>
<ellipse cx="382.30" cy="220.00" rx="5.20" ry="13.00" transform="rotate(0 382.30 220.00)" fill="#1cbb30" opacity="1" filter="url(#b6)"/>
<path d="M382.6,213.5 C384.8,216 385.8,220.5 385.6,225 C385.4,229 384.1,231.5 382.4,231.5 C380.6,231.5 379.3,229 379.3,225 C379.4,220 380.6,216 382.6,213.5 Z" fill="#f01010" opacity="1" filter="url(#b9)"/>
<polyline points="342.20,192.30 376.30,191.60 375.60,212.50 342.20,208.60" fill="none" stroke="#8a8a8a" stroke-width="0.7" stroke-linejoin="round" />
<polyline points="376.30,191.60 385.50,192.60 386.30,210.20 387.00,234.30" fill="none" stroke="#8a8a8a" stroke-width="0.7" stroke-linejoin="round" />
<polyline points="373.30,216.30 386.30,209.50" fill="none" stroke="#8a8a8a" stroke-width="0.7" stroke-linejoin="round" />
<polyline points="373.30,216.30 373.30,234.30" fill="none" stroke="#8a8a8a" stroke-width="0.7" stroke-linejoin="round" />
<text x="346.55" y="185.00" font-size="6.4" text-anchor="start" font-weight="bold" fill="#111" stroke="#111" stroke-width="0.12" >5.8</text>
<text x="381.25" y="185.00" font-size="6.4" text-anchor="start" font-weight="bold" fill="#111" stroke="#111" stroke-width="0.12" >8.4</text>
<text x="347.85" y="227.00" font-size="6.4" text-anchor="start" font-weight="bold" fill="#111" stroke="#111" stroke-width="0.12" >85.8</text>
<rect x="402.50" y="178.10" width="51.90" height="56.00" fill="#fff" stroke="#b4b4b4" stroke-width="0.8"/>
<line x1="400.90" y1="179.10" x2="402.50" y2="179.10" stroke="#aaa" stroke-width="0.6" />
<rect x="397.90" y="178.50" width="2.2" height="1.2" fill="#cfcfcf"/>
<line x1="400.90" y1="190.30" x2="402.50" y2="190.30" stroke="#aaa" stroke-width="0.6" />
<rect x="397.90" y="189.70" width="2.2" height="1.2" fill="#cfcfcf"/>
<line x1="400.90" y1="204.30" x2="402.50" y2="204.30" stroke="#aaa" stroke-width="0.6" />
<rect x="397.90" y="203.70" width="2.2" height="1.2" fill="#cfcfcf"/>
<line x1="400.90" y1="215.50" x2="402.50" y2="215.50" stroke="#aaa" stroke-width="0.6" />
<rect x="397.90" y="214.90" width="2.2" height="1.2" fill="#cfcfcf"/>
<line x1="400.90" y1="222.78" x2="402.50" y2="222.78" stroke="#aaa" stroke-width="0.6" />
<rect x="397.90" y="222.18" width="2.2" height="1.2" fill="#cfcfcf"/>
<line x1="400.90" y1="229.50" x2="402.50" y2="229.50" stroke="#aaa" stroke-width="0.6" />
<rect x="397.90" y="228.90" width="2.2" height="1.2" fill="#cfcfcf"/>
<line x1="406.65" y1="234.10" x2="406.65" y2="235.70" stroke="#aaa" stroke-width="0.6" />
<rect x="405.55" y="236.50" width="2.2" height="1.2" fill="#cfcfcf"/>
<line x1="418.07" y1="234.10" x2="418.07" y2="235.70" stroke="#aaa" stroke-width="0.6" />
<rect x="416.97" y="236.50" width="2.2" height="1.2" fill="#cfcfcf"/>
<line x1="428.45" y1="234.10" x2="428.45" y2="235.70" stroke="#aaa" stroke-width="0.6" />
<rect x="427.35" y="236.50" width="2.2" height="1.2" fill="#cfcfcf"/>
<line x1="438.83" y1="234.10" x2="438.83" y2="235.70" stroke="#aaa" stroke-width="0.6" />
<rect x="437.73" y="236.50" width="2.2" height="1.2" fill="#cfcfcf"/>
<line x1="450.25" y1="234.10" x2="450.25" y2="235.70" stroke="#aaa" stroke-width="0.6" />
<rect x="449.15" y="236.50" width="2.2" height="1.2" fill="#cfcfcf"/>
<ellipse cx="425.00" cy="203.50" rx="10.00" ry="5.00" transform="rotate(25 425.00 203.50)" fill="#b09ae4" opacity="0.8" filter="url(#b11)"/>
<ellipse cx="422.00" cy="201.50" rx="4.50" ry="2.20" transform="rotate(25 422.00 201.50)" fill="#7c6cc4" opacity="0.55" filter="url(#b4)"/>
<ellipse cx="433.00" cy="209.00" rx="3.20" ry="3.20" transform="rotate(0 433.00 209.00)" fill="#9a80e0" opacity="0.75" filter="url(#b4)"/>
<ellipse cx="428.30" cy="224.00" rx="2.00" ry="8.00" transform="rotate(0 428.30 224.00)" fill="#c4b4f0" opacity="0.75" filter="url(#b4)"/>
<ellipse cx="433.40" cy="213.20" rx="3.60" ry="2.20" transform="rotate(0 433.40 213.20)" fill="#2a3a90" opacity="0.8" filter="url(#b5)"/>
<ellipse cx="433.50" cy="222.50" rx="4.30" ry="11.20" transform="rotate(0 433.50 222.50)" fill="#1cbb30" opacity="1" filter="url(#b6)"/>
<ellipse cx="434.00" cy="223.00" rx="2.30" ry="5.90" transform="rotate(0 434.00 223.00)" fill="#f01010" opacity="1" filter="url(#b9)"/>
<polyline points="403.20,196.50 430.20,194.90 430.20,213.30 403.20,209.50" fill="none" stroke="#8a8a8a" stroke-width="0.7" stroke-linejoin="round" />
<polyline points="430.20,194.90 437.10,195.70 438.60,210.20 439.40,234.10" fill="none" stroke="#8a8a8a" stroke-width="0.7" stroke-linejoin="round" />
<polyline points="426.40,215.60 432.00,212.00 438.60,210.20" fill="none" stroke="#8a8a8a" stroke-width="0.7" stroke-linejoin="round" />
<polyline points="426.40,215.60 426.40,234.10" fill="none" stroke="#8a8a8a" stroke-width="0.7" stroke-linejoin="round" />
<text x="409.05" y="184.80" font-size="6.4" text-anchor="start" font-weight="bold" fill="#111" stroke="#111" stroke-width="0.12" >2.0</text>
<text x="439.55" y="184.80" font-size="6.4" text-anchor="start" font-weight="bold" fill="#111" stroke="#111" stroke-width="0.12" >1.7</text>
<text x="405.55" y="230.80" font-size="6.4" text-anchor="start" font-weight="bold" fill="#111" stroke="#111" stroke-width="0.12" >96.3</text>
<g><circle cx="475.4" cy="34.0" r="0.50" fill="#3f8090" opacity="0.45"/><circle cx="483.6" cy="41.6" r="0.36" fill="#3f8090" opacity="0.45"/><circle cx="478.9" cy="33.2" r="0.33" fill="#2f6f80" opacity="0.45"/><circle cx="466.9" cy="38.2" r="0.58" fill="#3f8090" opacity="0.45"/><circle cx="483.5" cy="36.5" r="0.59" fill="#3f8090" opacity="0.45"/><circle cx="482.8" cy="33.8" r="0.43" fill="#3f8090" opacity="0.45"/><circle cx="483.3" cy="38.1" r="0.50" fill="#3f8090" opacity="0.45"/><circle cx="483.6" cy="38.9" r="0.41" fill="#3f8090" opacity="0.45"/><circle cx="483.1" cy="38.7" r="0.45" fill="#2f6f80" opacity="0.45"/><circle cx="489.9" cy="37.2" r="0.58" fill="#7fb4c0" opacity="0.45"/><circle cx="474.6" cy="40.4" r="0.51" fill="#5a98a8" opacity="0.45"/><circle cx="467.6" cy="35.5" r="0.45" fill="#7fb4c0" opacity="0.45"/><circle cx="488.3" cy="35.4" r="0.59" fill="#3f8090" opacity="0.45"/><circle cx="481.4" cy="34.1" r="0.40" fill="#2f6f80" opacity="0.45"/><circle cx="478.5" cy="42.1" r="0.32" fill="#7fb4c0" opacity="0.45"/><circle cx="475.9" cy="36.0" r="0.45" fill="#2f6f80" opacity="0.45"/><circle cx="473.6" cy="39.5" r="0.32" fill="#7fb4c0" opacity="0.45"/><circle cx="491.3" cy="35.3" r="0.42" fill="#7fb4c0" opacity="0.45"/><circle cx="465.7" cy="37.1" r="0.35" fill="#3f8090" opacity="0.45"/><circle cx="480.8" cy="34.7" r="0.39" fill="#5a98a8" opacity="0.45"/><circle cx="477.7" cy="41.7" r="0.45" fill="#5a98a8" opacity="0.45"/><circle cx="479.4" cy="38.0" r="0.57" fill="#2f6f80" opacity="0.45"/><circle cx="492.6" cy="35.3" r="0.42" fill="#7fb4c0" opacity="0.45"/><circle cx="486.8" cy="36.3" r="0.37" fill="#3f8090" opacity="0.45"/><circle cx="470.6" cy="34.8" r="0.37" fill="#2f6f80" opacity="0.45"/><circle cx="491.6" cy="34.3" r="0.38" fill="#5a98a8" opacity="0.45"/><circle cx="478.4" cy="36.2" r="0.47" fill="#5a98a8" opacity="0.45"/><circle cx="487.1" cy="37.7" r="0.49" fill="#3f8090" opacity="0.45"/><circle cx="479.6" cy="41.2" r="0.59" fill="#2f6f80" opacity="0.45"/><circle cx="477.7" cy="36.4" r="0.44" fill="#2f6f80" opacity="0.45"/><circle cx="471.7" cy="34.1" r="0.40" fill="#3f8090" opacity="0.45"/><circle cx="468.3" cy="38.2" r="0.46" fill="#7fb4c0" opacity="0.45"/><circle cx="484.6" cy="33.2" r="0.36" fill="#2f6f80" opacity="0.45"/><circle cx="469.8" cy="35.0" r="0.40" fill="#7fb4c0" opacity="0.45"/><circle cx="480.2" cy="33.7" r="0.45" fill="#2f6f80" opacity="0.45"/><circle cx="480.4" cy="35.6" r="0.34" fill="#7fb4c0" opacity="0.45"/><circle cx="488.7" cy="37.3" r="0.51" fill="#3f8090" opacity="0.45"/><circle cx="476.6" cy="39.4" r="0.57" fill="#7fb4c0" opacity="0.45"/><circle cx="487.3" cy="35.1" r="0.41" fill="#5a98a8" opacity="0.45"/><circle cx="476.4" cy="34.7" r="0.46" fill="#7fb4c0" opacity="0.45"/><circle cx="485.4" cy="38.6" r="0.54" fill="#5a98a8" opacity="0.45"/><circle cx="490.8" cy="40.7" r="0.52" fill="#5a98a8" opacity="0.45"/><circle cx="471.4" cy="37.4" r="0.52" fill="#3f8090" opacity="0.45"/><circle cx="490.3" cy="37.2" r="0.36" fill="#7fb4c0" opacity="0.45"/><circle cx="479.3" cy="41.9" r="0.60" fill="#7fb4c0" opacity="0.45"/><circle cx="480.0" cy="35.9" r="0.44" fill="#3f8090" opacity="0.45"/><circle cx="480.3" cy="39.0" r="0.54" fill="#3f8090" opacity="0.45"/><circle cx="477.4" cy="39.6" r="0.36" fill="#5a98a8" opacity="0.45"/><circle cx="478.9" cy="38.9" r="0.33" fill="#2f6f80" opacity="0.45"/><circle cx="479.8" cy="39.9" r="0.33" fill="#5a98a8" opacity="0.45"/><circle cx="470.4" cy="33.8" r="0.35" fill="#2f6f80" opacity="0.45"/><circle cx="490.8" cy="34.0" r="0.55" fill="#2f6f80" opacity="0.45"/><circle cx="486.0" cy="36.0" r="0.46" fill="#5a98a8" opacity="0.45"/><circle cx="488.2" cy="33.5" r="0.52" fill="#5a98a8" opacity="0.45"/><circle cx="478.9" cy="41.2" r="0.55" fill="#5a98a8" opacity="0.45"/><circle cx="481.0" cy="40.1" r="0.40" fill="#2f6f80" opacity="0.45"/><circle cx="488.7" cy="41.5" r="0.50" fill="#2f6f80" opacity="0.45"/><circle cx="481.3" cy="41.2" r="0.53" fill="#3f8090" opacity="0.45"/><circle cx="489.8" cy="34.0" r="0.34" fill="#3f8090" opacity="0.45"/><circle cx="482.8" cy="35.8" r="0.46" fill="#2f6f80" opacity="0.45"/><circle cx="490.1" cy="33.6" r="0.47" fill="#5a98a8" opacity="0.45"/><circle cx="468.1" cy="37.0" r="0.31" fill="#3f8090" opacity="0.45"/><circle cx="479.2" cy="38.6" r="0.45" fill="#5a98a8" opacity="0.45"/><circle cx="487.2" cy="37.0" r="0.46" fill="#2f6f80" opacity="0.45"/><circle cx="481.2" cy="35.0" r="0.46" fill="#7fb4c0" opacity="0.45"/><circle cx="471.5" cy="37.0" r="0.42" fill="#2f6f80" opacity="0.45"/><circle cx="479.1" cy="33.2" r="0.37" fill="#3f8090" opacity="0.45"/><circle cx="471.8" cy="35.5" r="0.34" fill="#5a98a8" opacity="0.45"/><circle cx="495.1" cy="38.9" r="0.41" fill="#7fb4c0" opacity="0.45"/><circle cx="477.7" cy="37.4" r="0.60" fill="#5a98a8" opacity="0.45"/><circle cx="470.2" cy="36.8" r="0.45" fill="#7fb4c0" opacity="0.45"/><circle cx="478.5" cy="36.1" r="0.33" fill="#7fb4c0" opacity="0.45"/><circle cx="465.6" cy="38.0" r="0.43" fill="#3f8090" opacity="0.45"/><circle cx="477.3" cy="37.7" r="0.39" fill="#3f8090" opacity="0.45"/><circle cx="472.3" cy="41.3" r="0.33" fill="#7fb4c0" opacity="0.45"/><circle cx="473.7" cy="33.8" r="0.43" fill="#7fb4c0" opacity="0.45"/><circle cx="478.0" cy="37.9" r="0.45" fill="#2f6f80" opacity="0.45"/><circle cx="487.4" cy="33.4" r="0.32" fill="#5a98a8" opacity="0.45"/><circle cx="478.6" cy="33.2" r="0.58" fill="#3f8090" opacity="0.45"/><circle cx="492.6" cy="37.0" r="0.40" fill="#2f6f80" opacity="0.45"/><circle cx="494.7" cy="35.2" r="0.34" fill="#5a98a8" opacity="0.45"/><circle cx="473.4" cy="34.3" r="0.58" fill="#7fb4c0" opacity="0.45"/><circle cx="482.0" cy="34.6" r="0.43" fill="#5a98a8" opacity="0.45"/><circle cx="473.7" cy="40.5" r="0.60" fill="#3f8090" opacity="0.45"/><circle cx="482.6" cy="34.4" r="0.44" fill="#2f6f80" opacity="0.45"/><circle cx="478.8" cy="37.5" r="0.55" fill="#2f6f80" opacity="0.45"/><circle cx="471.9" cy="34.8" r="0.36" fill="#5a98a8" opacity="0.45"/><circle cx="478.0" cy="36.0" r="0.32" fill="#5a98a8" opacity="0.45"/><circle cx="493.2" cy="36.8" r="0.32" fill="#2f6f80" opacity="0.45"/><circle cx="492.9" cy="39.2" r="0.38" fill="#5a98a8" opacity="0.45"/><circle cx="487.2" cy="33.0" r="0.36" fill="#7fb4c0" opacity="0.45"/><circle cx="479.3" cy="35.1" r="0.59" fill="#7fb4c0" opacity="0.45"/><circle cx="474.9" cy="36.1" r="0.30" fill="#2f6f80" opacity="0.45"/><circle cx="467.7" cy="35.3" r="0.50" fill="#5a98a8" opacity="0.45"/><circle cx="481.2" cy="32.5" r="0.38" fill="#3f8090" opacity="0.45"/><circle cx="469.6" cy="38.4" r="0.42" fill="#7fb4c0" opacity="0.45"/><circle cx="474.7" cy="34.8" r="0.48" fill="#5a98a8" opacity="0.45"/><circle cx="486.0" cy="39.7" r="0.56" fill="#2f6f80" opacity="0.45"/><circle cx="489.5" cy="39.7" r="0.45" fill="#7fb4c0" opacity="0.45"/><circle cx="488.2" cy="38.9" r="0.31" fill="#2f6f80" opacity="0.45"/><circle cx="488.5" cy="40.6" r="0.34" fill="#3f8090" opacity="0.45"/><circle cx="491.4" cy="38.3" r="0.57" fill="#5a98a8" opacity="0.45"/><circle cx="485.4" cy="42.1" r="0.41" fill="#2f6f80" opacity="0.45"/><circle cx="482.9" cy="38.8" r="0.49" fill="#5a98a8" opacity="0.45"/><circle cx="480.7" cy="32.5" r="0.54" fill="#3f8090" opacity="0.45"/><circle cx="486.1" cy="33.2" r="0.52" fill="#7fb4c0" opacity="0.45"/><circle cx="490.9" cy="41.0" r="0.37" fill="#5a98a8" opacity="0.45"/><circle cx="472.4" cy="39.0" r="0.44" fill="#2f6f80" opacity="0.45"/><circle cx="485.2" cy="34.5" r="0.48" fill="#7fb4c0" opacity="0.45"/><circle cx="473.1" cy="39.9" r="0.39" fill="#5a98a8" opacity="0.45"/><circle cx="473.6" cy="39.2" r="0.51" fill="#2f6f80" opacity="0.45"/><circle cx="474.3" cy="37.7" r="0.44" fill="#2f6f80" opacity="0.45"/><circle cx="482.6" cy="35.6" r="0.33" fill="#2f6f80" opacity="0.45"/><circle cx="465.6" cy="37.1" r="0.55" fill="#2f6f80" opacity="0.45"/><circle cx="488.9" cy="35.1" r="0.41" fill="#7fb4c0" opacity="0.45"/><circle cx="493.4" cy="39.5" r="0.37" fill="#2f6f80" opacity="0.45"/><circle cx="477.6" cy="34.1" r="0.58" fill="#2f6f80" opacity="0.45"/><circle cx="478.0" cy="39.8" r="0.42" fill="#2f6f80" opacity="0.45"/><circle cx="475.1" cy="40.9" r="0.30" fill="#7fb4c0" opacity="0.45"/><circle cx="494.6" cy="39.6" r="0.57" fill="#7fb4c0" opacity="0.45"/><circle cx="477.5" cy="41.2" r="0.32" fill="#2f6f80" opacity="0.45"/><circle cx="489.2" cy="41.0" r="0.38" fill="#3f8090" opacity="0.45"/><circle cx="491.7" cy="35.4" r="0.58" fill="#5a98a8" opacity="0.45"/><circle cx="496.1" cy="36.9" r="0.39" fill="#7fb4c0" opacity="0.45"/><circle cx="490.1" cy="36.8" r="0.31" fill="#2f6f80" opacity="0.45"/><circle cx="482.6" cy="39.7" r="0.31" fill="#2f6f80" opacity="0.45"/><circle cx="479.4" cy="40.0" r="0.49" fill="#7fb4c0" opacity="0.45"/><circle cx="480.5" cy="41.6" r="0.47" fill="#5a98a8" opacity="0.45"/><circle cx="480.1" cy="35.9" r="0.39" fill="#7fb4c0" opacity="0.45"/><circle cx="478.0" cy="34.9" r="0.44" fill="#2f6f80" opacity="0.45"/><circle cx="468.8" cy="38.9" r="0.32" fill="#2f6f80" opacity="0.45"/><circle cx="482.6" cy="37.0" r="0.40" fill="#2f6f80" opacity="0.45"/><circle cx="478.7" cy="38.0" r="0.37" fill="#5a98a8" opacity="0.45"/><circle cx="475.9" cy="33.4" r="0.37" fill="#7fb4c0" opacity="0.45"/><circle cx="490.9" cy="34.5" r="0.31" fill="#2f6f80" opacity="0.45"/><circle cx="477.3" cy="40.0" r="0.36" fill="#7fb4c0" opacity="0.45"/><circle cx="475.8" cy="33.1" r="0.38" fill="#7fb4c0" opacity="0.45"/><circle cx="469.0" cy="37.5" r="0.49" fill="#5a98a8" opacity="0.45"/><circle cx="477.3" cy="39.0" r="0.43" fill="#7fb4c0" opacity="0.45"/><circle cx="487.7" cy="41.5" r="0.44" fill="#2f6f80" opacity="0.45"/></g>
<g><circle cx="492.0" cy="38.3" r="0.33" fill="#5a98a8" opacity="0.4"/><circle cx="503.1" cy="42.6" r="0.43" fill="#8fc0c8" opacity="0.4"/><circle cx="489.4" cy="42.9" r="0.30" fill="#5a98a8" opacity="0.4"/><circle cx="491.7" cy="43.9" r="0.43" fill="#8fc0c8" opacity="0.4"/><circle cx="503.4" cy="41.9" r="0.41" fill="#8fc0c8" opacity="0.4"/><circle cx="499.2" cy="38.3" r="0.31" fill="#5a98a8" opacity="0.4"/><circle cx="494.2" cy="39.1" r="0.42" fill="#5a98a8" opacity="0.4"/><circle cx="496.6" cy="44.5" r="0.36" fill="#8fc0c8" opacity="0.4"/><circle cx="498.3" cy="43.7" r="0.40" fill="#5a98a8" opacity="0.4"/><circle cx="496.8" cy="37.7" r="0.38" fill="#8fc0c8" opacity="0.4"/><circle cx="502.2" cy="42.0" r="0.32" fill="#5a98a8" opacity="0.4"/><circle cx="498.7" cy="44.0" r="0.35" fill="#5a98a8" opacity="0.4"/><circle cx="499.1" cy="42.5" r="0.37" fill="#8fc0c8" opacity="0.4"/><circle cx="491.2" cy="43.1" r="0.45" fill="#5a98a8" opacity="0.4"/><circle cx="493.0" cy="43.2" r="0.35" fill="#5a98a8" opacity="0.4"/><circle cx="492.2" cy="43.7" r="0.32" fill="#8fc0c8" opacity="0.4"/><circle cx="497.8" cy="43.8" r="0.40" fill="#5a98a8" opacity="0.4"/><circle cx="494.3" cy="39.0" r="0.49" fill="#5a98a8" opacity="0.4"/><circle cx="494.6" cy="42.5" r="0.34" fill="#8fc0c8" opacity="0.4"/><circle cx="502.9" cy="39.8" r="0.34" fill="#8fc0c8" opacity="0.4"/><circle cx="488.5" cy="42.2" r="0.38" fill="#8fc0c8" opacity="0.4"/><circle cx="503.8" cy="40.6" r="0.32" fill="#5a98a8" opacity="0.4"/><circle cx="492.5" cy="40.0" r="0.49" fill="#5a98a8" opacity="0.4"/><circle cx="497.0" cy="42.8" r="0.38" fill="#8fc0c8" opacity="0.4"/><circle cx="501.2" cy="40.5" r="0.31" fill="#8fc0c8" opacity="0.4"/><circle cx="491.1" cy="41.3" r="0.39" fill="#8fc0c8" opacity="0.4"/><circle cx="493.8" cy="43.8" r="0.31" fill="#8fc0c8" opacity="0.4"/><circle cx="492.0" cy="41.9" r="0.38" fill="#8fc0c8" opacity="0.4"/><circle cx="502.7" cy="39.3" r="0.45" fill="#8fc0c8" opacity="0.4"/><circle cx="493.8" cy="39.8" r="0.49" fill="#5a98a8" opacity="0.4"/><circle cx="492.2" cy="42.5" r="0.36" fill="#8fc0c8" opacity="0.4"/><circle cx="492.8" cy="42.6" r="0.42" fill="#5a98a8" opacity="0.4"/><circle cx="495.6" cy="44.2" r="0.49" fill="#8fc0c8" opacity="0.4"/><circle cx="501.0" cy="38.4" r="0.40" fill="#5a98a8" opacity="0.4"/><circle cx="500.8" cy="42.7" r="0.46" fill="#5a98a8" opacity="0.4"/><circle cx="497.7" cy="39.8" r="0.36" fill="#8fc0c8" opacity="0.4"/><circle cx="500.5" cy="41.7" r="0.40" fill="#8fc0c8" opacity="0.4"/><circle cx="500.0" cy="39.2" r="0.31" fill="#5a98a8" opacity="0.4"/><circle cx="495.7" cy="41.3" r="0.33" fill="#8fc0c8" opacity="0.4"/><circle cx="492.2" cy="38.1" r="0.32" fill="#8fc0c8" opacity="0.4"/></g>
<g><circle cx="357.9" cy="195.8" r="0.42" fill="#7a68b8" opacity="0.45"/><circle cx="372.0" cy="202.8" r="0.47" fill="#5060a0" opacity="0.45"/><circle cx="373.4" cy="199.1" r="0.37" fill="#9a88d0" opacity="0.45"/><circle cx="362.5" cy="200.7" r="0.35" fill="#7a68b8" opacity="0.45"/><circle cx="358.2" cy="196.5" r="0.37" fill="#7a68b8" opacity="0.45"/><circle cx="361.6" cy="198.2" r="0.55" fill="#7a68b8" opacity="0.45"/><circle cx="370.2" cy="197.3" r="0.42" fill="#5060a0" opacity="0.45"/><circle cx="355.8" cy="197.9" r="0.50" fill="#405890" opacity="0.45"/><circle cx="361.1" cy="196.1" r="0.35" fill="#7a68b8" opacity="0.45"/><circle cx="377.2" cy="200.2" r="0.52" fill="#405890" opacity="0.45"/><circle cx="368.4" cy="201.8" r="0.47" fill="#5060a0" opacity="0.45"/><circle cx="355.8" cy="198.7" r="0.45" fill="#7a68b8" opacity="0.45"/><circle cx="354.2" cy="196.7" r="0.31" fill="#9a88d0" opacity="0.45"/><circle cx="374.3" cy="200.0" r="0.39" fill="#9a88d0" opacity="0.45"/><circle cx="365.9" cy="199.4" r="0.40" fill="#405890" opacity="0.45"/><circle cx="370.6" cy="197.7" r="0.43" fill="#7a68b8" opacity="0.45"/><circle cx="363.6" cy="197.5" r="0.55" fill="#9a88d0" opacity="0.45"/><circle cx="364.3" cy="196.1" r="0.49" fill="#9a88d0" opacity="0.45"/><circle cx="364.3" cy="195.8" r="0.49" fill="#9a88d0" opacity="0.45"/><circle cx="369.8" cy="199.3" r="0.40" fill="#5060a0" opacity="0.45"/><circle cx="364.6" cy="196.9" r="0.33" fill="#5060a0" opacity="0.45"/><circle cx="363.2" cy="201.8" r="0.42" fill="#7a68b8" opacity="0.45"/><circle cx="356.5" cy="200.3" r="0.40" fill="#9a88d0" opacity="0.45"/><circle cx="372.4" cy="198.1" r="0.39" fill="#7a68b8" opacity="0.45"/><circle cx="366.1" cy="202.5" r="0.33" fill="#405890" opacity="0.45"/><circle cx="372.2" cy="202.4" r="0.50" fill="#9a88d0" opacity="0.45"/><circle cx="378.3" cy="201.1" r="0.31" fill="#405890" opacity="0.45"/><circle cx="355.1" cy="199.5" r="0.47" fill="#7a68b8" opacity="0.45"/><circle cx="369.3" cy="202.5" r="0.46" fill="#7a68b8" opacity="0.45"/><circle cx="374.8" cy="198.5" r="0.35" fill="#405890" opacity="0.45"/><circle cx="362.7" cy="196.6" r="0.54" fill="#7a68b8" opacity="0.45"/><circle cx="354.1" cy="198.3" r="0.49" fill="#5060a0" opacity="0.45"/><circle cx="370.5" cy="198.9" r="0.40" fill="#405890" opacity="0.45"/><circle cx="367.2" cy="200.6" r="0.38" fill="#405890" opacity="0.45"/><circle cx="361.3" cy="197.1" r="0.40" fill="#9a88d0" opacity="0.45"/><circle cx="364.7" cy="198.9" r="0.31" fill="#405890" opacity="0.45"/><circle cx="365.2" cy="199.0" r="0.45" fill="#405890" opacity="0.45"/><circle cx="374.4" cy="202.9" r="0.40" fill="#5060a0" opacity="0.45"/><circle cx="356.5" cy="197.7" r="0.32" fill="#405890" opacity="0.45"/><circle cx="366.0" cy="200.6" r="0.31" fill="#7a68b8" opacity="0.45"/><circle cx="355.0" cy="199.6" r="0.49" fill="#5060a0" opacity="0.45"/><circle cx="354.5" cy="197.9" r="0.39" fill="#7a68b8" opacity="0.45"/><circle cx="368.8" cy="201.2" r="0.33" fill="#7a68b8" opacity="0.45"/><circle cx="378.4" cy="201.2" r="0.54" fill="#7a68b8" opacity="0.45"/><circle cx="370.6" cy="201.7" r="0.36" fill="#9a88d0" opacity="0.45"/><circle cx="369.1" cy="198.2" r="0.38" fill="#9a88d0" opacity="0.45"/><circle cx="376.5" cy="200.7" r="0.36" fill="#405890" opacity="0.45"/><circle cx="358.7" cy="196.8" r="0.43" fill="#9a88d0" opacity="0.45"/><circle cx="363.0" cy="197.0" r="0.40" fill="#9a88d0" opacity="0.45"/><circle cx="370.2" cy="202.9" r="0.34" fill="#9a88d0" opacity="0.45"/><circle cx="356.1" cy="198.3" r="0.46" fill="#9a88d0" opacity="0.45"/><circle cx="378.0" cy="200.9" r="0.43" fill="#5060a0" opacity="0.45"/><circle cx="359.6" cy="198.9" r="0.51" fill="#9a88d0" opacity="0.45"/><circle cx="368.1" cy="198.8" r="0.49" fill="#405890" opacity="0.45"/><circle cx="358.9" cy="199.3" r="0.54" fill="#9a88d0" opacity="0.45"/><circle cx="374.5" cy="198.9" r="0.46" fill="#9a88d0" opacity="0.45"/><circle cx="371.8" cy="202.1" r="0.36" fill="#9a88d0" opacity="0.45"/><circle cx="369.1" cy="199.5" r="0.43" fill="#5060a0" opacity="0.45"/><circle cx="356.8" cy="196.3" r="0.46" fill="#5060a0" opacity="0.45"/><circle cx="354.5" cy="198.4" r="0.38" fill="#9a88d0" opacity="0.45"/><circle cx="367.0" cy="199.0" r="0.38" fill="#7a68b8" opacity="0.45"/><circle cx="358.3" cy="199.3" r="0.42" fill="#7a68b8" opacity="0.45"/><circle cx="371.4" cy="199.9" r="0.32" fill="#7a68b8" opacity="0.45"/><circle cx="375.3" cy="202.8" r="0.40" fill="#9a88d0" opacity="0.45"/><circle cx="368.4" cy="200.4" r="0.45" fill="#405890" opacity="0.45"/><circle cx="359.1" cy="201.4" r="0.31" fill="#5060a0" opacity="0.45"/><circle cx="363.8" cy="197.3" r="0.31" fill="#5060a0" opacity="0.45"/><circle cx="353.4" cy="198.1" r="0.54" fill="#7a68b8" opacity="0.45"/><circle cx="363.7" cy="199.3" r="0.46" fill="#405890" opacity="0.45"/><circle cx="374.4" cy="198.4" r="0.38" fill="#9a88d0" opacity="0.45"/><circle cx="371.8" cy="200.2" r="0.43" fill="#405890" opacity="0.45"/><circle cx="374.6" cy="202.4" r="0.42" fill="#405890" opacity="0.45"/><circle cx="359.7" cy="199.6" r="0.33" fill="#9a88d0" opacity="0.45"/><circle cx="371.7" cy="198.6" r="0.44" fill="#405890" opacity="0.45"/><circle cx="370.4" cy="203.1" r="0.54" fill="#9a88d0" opacity="0.45"/><circle cx="369.2" cy="203.2" r="0.35" fill="#5060a0" opacity="0.45"/><circle cx="375.1" cy="198.7" r="0.34" fill="#9a88d0" opacity="0.45"/><circle cx="358.2" cy="197.6" r="0.45" fill="#405890" opacity="0.45"/><circle cx="376.4" cy="201.9" r="0.47" fill="#405890" opacity="0.45"/><circle cx="365.3" cy="199.6" r="0.30" fill="#5060a0" opacity="0.45"/><circle cx="364.2" cy="200.8" r="0.44" fill="#9a88d0" opacity="0.45"/><circle cx="373.6" cy="199.8" r="0.45" fill="#7a68b8" opacity="0.45"/><circle cx="362.4" cy="196.5" r="0.31" fill="#5060a0" opacity="0.45"/><circle cx="356.6" cy="199.2" r="0.31" fill="#5060a0" opacity="0.45"/><circle cx="372.5" cy="197.3" r="0.45" fill="#9a88d0" opacity="0.45"/><circle cx="366.7" cy="200.8" r="0.52" fill="#405890" opacity="0.45"/><circle cx="356.2" cy="196.0" r="0.33" fill="#5060a0" opacity="0.45"/><circle cx="372.9" cy="197.6" r="0.49" fill="#9a88d0" opacity="0.45"/><circle cx="365.8" cy="196.9" r="0.50" fill="#7a68b8" opacity="0.45"/><circle cx="360.9" cy="197.6" r="0.37" fill="#9a88d0" opacity="0.45"/></g>
<g><circle cx="421.9" cy="199.9" r="0.44" fill="#a890e0" opacity="0.4"/><circle cx="430.7" cy="208.8" r="0.42" fill="#a890e0" opacity="0.4"/><circle cx="430.3" cy="207.1" r="0.31" fill="#a890e0" opacity="0.4"/><circle cx="417.3" cy="200.1" r="0.32" fill="#a890e0" opacity="0.4"/><circle cx="428.2" cy="205.4" r="0.34" fill="#8a70c8" opacity="0.4"/><circle cx="427.0" cy="202.3" r="0.39" fill="#6a58b0" opacity="0.4"/><circle cx="419.1" cy="203.4" r="0.50" fill="#8a70c8" opacity="0.4"/><circle cx="424.1" cy="199.0" r="0.44" fill="#8a70c8" opacity="0.4"/><circle cx="432.3" cy="207.8" r="0.49" fill="#6a58b0" opacity="0.4"/><circle cx="422.6" cy="199.5" r="0.44" fill="#a890e0" opacity="0.4"/><circle cx="429.4" cy="205.5" r="0.50" fill="#6a58b0" opacity="0.4"/><circle cx="429.2" cy="206.7" r="0.37" fill="#a890e0" opacity="0.4"/><circle cx="429.3" cy="204.7" r="0.43" fill="#a890e0" opacity="0.4"/><circle cx="421.1" cy="199.3" r="0.48" fill="#6a58b0" opacity="0.4"/><circle cx="425.4" cy="208.1" r="0.33" fill="#6a58b0" opacity="0.4"/><circle cx="428.2" cy="207.5" r="0.43" fill="#a890e0" opacity="0.4"/><circle cx="426.2" cy="204.3" r="0.47" fill="#a890e0" opacity="0.4"/><circle cx="426.7" cy="206.7" r="0.33" fill="#a890e0" opacity="0.4"/><circle cx="429.0" cy="203.0" r="0.35" fill="#a890e0" opacity="0.4"/><circle cx="422.9" cy="206.4" r="0.35" fill="#8a70c8" opacity="0.4"/><circle cx="420.2" cy="203.8" r="0.47" fill="#6a58b0" opacity="0.4"/><circle cx="420.7" cy="198.1" r="0.35" fill="#a890e0" opacity="0.4"/><circle cx="427.3" cy="203.0" r="0.35" fill="#8a70c8" opacity="0.4"/><circle cx="428.7" cy="202.2" r="0.33" fill="#8a70c8" opacity="0.4"/><circle cx="428.9" cy="207.6" r="0.39" fill="#8a70c8" opacity="0.4"/><circle cx="420.0" cy="205.0" r="0.39" fill="#8a70c8" opacity="0.4"/><circle cx="422.2" cy="205.1" r="0.44" fill="#6a58b0" opacity="0.4"/><circle cx="419.5" cy="204.4" r="0.44" fill="#6a58b0" opacity="0.4"/><circle cx="429.4" cy="204.8" r="0.35" fill="#6a58b0" opacity="0.4"/><circle cx="426.1" cy="207.7" r="0.43" fill="#6a58b0" opacity="0.4"/><circle cx="430.1" cy="207.6" r="0.43" fill="#a890e0" opacity="0.4"/><circle cx="424.8" cy="201.0" r="0.44" fill="#a890e0" opacity="0.4"/><circle cx="421.2" cy="200.7" r="0.44" fill="#8a70c8" opacity="0.4"/><circle cx="421.2" cy="201.0" r="0.39" fill="#6a58b0" opacity="0.4"/><circle cx="430.8" cy="206.4" r="0.43" fill="#8a70c8" opacity="0.4"/><circle cx="432.1" cy="205.1" r="0.30" fill="#a890e0" opacity="0.4"/><circle cx="422.0" cy="199.3" r="0.44" fill="#8a70c8" opacity="0.4"/><circle cx="426.8" cy="200.4" r="0.41" fill="#6a58b0" opacity="0.4"/><circle cx="420.3" cy="201.1" r="0.30" fill="#a890e0" opacity="0.4"/><circle cx="425.7" cy="202.9" r="0.49" fill="#8a70c8" opacity="0.4"/><circle cx="423.6" cy="207.1" r="0.45" fill="#6a58b0" opacity="0.4"/><circle cx="424.3" cy="198.8" r="0.35" fill="#a890e0" opacity="0.4"/><circle cx="431.3" cy="207.7" r="0.43" fill="#6a58b0" opacity="0.4"/><circle cx="422.2" cy="199.5" r="0.45" fill="#6a58b0" opacity="0.4"/><circle cx="432.7" cy="206.7" r="0.33" fill="#8a70c8" opacity="0.4"/><circle cx="429.5" cy="207.0" r="0.39" fill="#6a58b0" opacity="0.4"/><circle cx="427.4" cy="207.7" r="0.33" fill="#6a58b0" opacity="0.4"/><circle cx="426.1" cy="207.2" r="0.46" fill="#a890e0" opacity="0.4"/><circle cx="426.4" cy="206.9" r="0.39" fill="#8a70c8" opacity="0.4"/><circle cx="421.7" cy="200.7" r="0.35" fill="#a890e0" opacity="0.4"/><circle cx="428.0" cy="204.7" r="0.46" fill="#a890e0" opacity="0.4"/><circle cx="422.1" cy="203.7" r="0.36" fill="#a890e0" opacity="0.4"/><circle cx="423.3" cy="204.1" r="0.43" fill="#a890e0" opacity="0.4"/><circle cx="420.1" cy="199.3" r="0.38" fill="#8a70c8" opacity="0.4"/><circle cx="431.0" cy="202.7" r="0.47" fill="#6a58b0" opacity="0.4"/><circle cx="425.7" cy="205.4" r="0.34" fill="#8a70c8" opacity="0.4"/><circle cx="428.5" cy="202.6" r="0.32" fill="#8a70c8" opacity="0.4"/><circle cx="432.0" cy="203.6" r="0.39" fill="#8a70c8" opacity="0.4"/><circle cx="420.6" cy="200.5" r="0.41" fill="#6a58b0" opacity="0.4"/><circle cx="431.0" cy="207.4" r="0.46" fill="#6a58b0" opacity="0.4"/></g>
<g><circle cx="421.6" cy="33.6" r="0.40" fill="#d8d8d8" opacity="0.5"/><circle cx="404.7" cy="35.3" r="0.38" fill="#b8b8c8" opacity="0.5"/><circle cx="420.1" cy="35.1" r="0.32" fill="#c8c8c8" opacity="0.5"/><circle cx="406.3" cy="29.8" r="0.32" fill="#d8d8d8" opacity="0.5"/><circle cx="413.4" cy="32.8" r="0.44" fill="#b8b8c8" opacity="0.5"/><circle cx="411.8" cy="33.0" r="0.38" fill="#b8b8c8" opacity="0.5"/><circle cx="411.2" cy="33.8" r="0.40" fill="#d8d8d8" opacity="0.5"/><circle cx="409.0" cy="32.0" r="0.44" fill="#c8c8c8" opacity="0.5"/><circle cx="404.3" cy="31.3" r="0.40" fill="#c8c8c8" opacity="0.5"/><circle cx="414.6" cy="35.2" r="0.44" fill="#d8d8d8" opacity="0.5"/><circle cx="411.6" cy="36.1" r="0.32" fill="#c8c8c8" opacity="0.5"/><circle cx="417.2" cy="34.5" r="0.35" fill="#b8b8c8" opacity="0.5"/><circle cx="408.8" cy="32.7" r="0.38" fill="#c8c8c8" opacity="0.5"/><circle cx="406.8" cy="31.1" r="0.34" fill="#c8c8c8" opacity="0.5"/><circle cx="419.8" cy="30.5" r="0.42" fill="#d8d8d8" opacity="0.5"/><circle cx="421.0" cy="31.1" r="0.33" fill="#d8d8d8" opacity="0.5"/><circle cx="419.0" cy="31.0" r="0.35" fill="#d8d8d8" opacity="0.5"/><circle cx="409.6" cy="33.7" r="0.36" fill="#b8b8c8" opacity="0.5"/><circle cx="401.2" cy="30.6" r="0.30" fill="#c8c8c8" opacity="0.5"/><circle cx="419.7" cy="32.7" r="0.41" fill="#c8c8c8" opacity="0.5"/><circle cx="414.7" cy="34.4" r="0.39" fill="#b8b8c8" opacity="0.5"/><circle cx="416.5" cy="37.5" r="0.31" fill="#c8c8c8" opacity="0.5"/><circle cx="416.0" cy="32.5" r="0.41" fill="#c8c8c8" opacity="0.5"/><circle cx="415.9" cy="37.4" r="0.36" fill="#c8c8c8" opacity="0.5"/><circle cx="421.9" cy="34.9" r="0.36" fill="#c8c8c8" opacity="0.5"/><circle cx="418.9" cy="33.7" r="0.34" fill="#d8d8d8" opacity="0.5"/><circle cx="400.5" cy="33.8" r="0.39" fill="#c8c8c8" opacity="0.5"/><circle cx="411.9" cy="33.3" r="0.42" fill="#d8d8d8" opacity="0.5"/><circle cx="413.8" cy="38.0" r="0.37" fill="#c8c8c8" opacity="0.5"/><circle cx="416.3" cy="34.1" r="0.45" fill="#b8b8c8" opacity="0.5"/></g>
<g><circle cx="120.6" cy="200.8" r="0.36" fill="#c8c8c8" opacity="0.5"/><circle cx="102.7" cy="200.7" r="0.43" fill="#b8b8c8" opacity="0.5"/><circle cx="114.7" cy="197.2" r="0.44" fill="#c8c8c8" opacity="0.5"/><circle cx="105.4" cy="197.2" r="0.37" fill="#d8d8d8" opacity="0.5"/><circle cx="115.4" cy="198.4" r="0.41" fill="#c8c8c8" opacity="0.5"/><circle cx="119.5" cy="199.7" r="0.41" fill="#b8b8c8" opacity="0.5"/><circle cx="118.1" cy="203.3" r="0.31" fill="#b8b8c8" opacity="0.5"/><circle cx="112.1" cy="201.0" r="0.40" fill="#d8d8d8" opacity="0.5"/><circle cx="118.7" cy="202.9" r="0.39" fill="#d8d8d8" opacity="0.5"/><circle cx="107.2" cy="203.3" r="0.32" fill="#d8d8d8" opacity="0.5"/><circle cx="113.2" cy="199.2" r="0.44" fill="#b8b8c8" opacity="0.5"/><circle cx="109.8" cy="202.8" r="0.32" fill="#c8c8c8" opacity="0.5"/><circle cx="108.3" cy="202.4" r="0.39" fill="#d8d8d8" opacity="0.5"/><circle cx="110.5" cy="203.8" r="0.37" fill="#d8d8d8" opacity="0.5"/><circle cx="116.7" cy="201.7" r="0.34" fill="#c8c8c8" opacity="0.5"/><circle cx="113.4" cy="202.5" r="0.42" fill="#b8b8c8" opacity="0.5"/><circle cx="107.6" cy="202.1" r="0.45" fill="#c8c8c8" opacity="0.5"/><circle cx="113.0" cy="199.1" r="0.36" fill="#c8c8c8" opacity="0.5"/><circle cx="108.5" cy="202.8" r="0.39" fill="#c8c8c8" opacity="0.5"/><circle cx="117.1" cy="198.8" r="0.30" fill="#d8d8d8" opacity="0.5"/><circle cx="106.4" cy="197.6" r="0.44" fill="#c8c8c8" opacity="0.5"/><circle cx="106.8" cy="197.4" r="0.43" fill="#b8b8c8" opacity="0.5"/><circle cx="116.9" cy="201.5" r="0.42" fill="#d8d8d8" opacity="0.5"/><circle cx="107.9" cy="196.9" r="0.38" fill="#d8d8d8" opacity="0.5"/><circle cx="105.0" cy="203.5" r="0.44" fill="#c8c8c8" opacity="0.5"/><circle cx="107.2" cy="196.6" r="0.36" fill="#b8b8c8" opacity="0.5"/><circle cx="105.1" cy="198.5" r="0.41" fill="#d8d8d8" opacity="0.5"/><circle cx="110.2" cy="196.9" r="0.42" fill="#c8c8c8" opacity="0.5"/><circle cx="105.7" cy="201.8" r="0.43" fill="#b8b8c8" opacity="0.5"/><circle cx="107.4" cy="201.1" r="0.33" fill="#c8c8c8" opacity="0.5"/></g>
<g><circle cx="173.6" cy="196.8" r="0.41" fill="#d8d8d8" opacity="0.5"/><circle cx="182.9" cy="198.6" r="0.42" fill="#c8c8c8" opacity="0.5"/><circle cx="174.9" cy="204.2" r="0.37" fill="#c8c8c8" opacity="0.5"/><circle cx="177.9" cy="199.6" r="0.31" fill="#d8d8d8" opacity="0.5"/><circle cx="183.3" cy="198.4" r="0.38" fill="#c8c8c8" opacity="0.5"/><circle cx="189.9" cy="200.7" r="0.39" fill="#c8c8c8" opacity="0.5"/><circle cx="175.3" cy="202.8" r="0.36" fill="#d8d8d8" opacity="0.5"/><circle cx="187.4" cy="203.2" r="0.44" fill="#d8d8d8" opacity="0.5"/><circle cx="189.2" cy="198.4" r="0.45" fill="#d8d8d8" opacity="0.5"/><circle cx="182.4" cy="203.7" r="0.37" fill="#c8c8c8" opacity="0.5"/><circle cx="189.7" cy="201.4" r="0.44" fill="#b8b8c8" opacity="0.5"/><circle cx="182.5" cy="201.4" r="0.44" fill="#b8b8c8" opacity="0.5"/><circle cx="181.2" cy="196.8" r="0.43" fill="#d8d8d8" opacity="0.5"/><circle cx="175.1" cy="198.5" r="0.44" fill="#c8c8c8" opacity="0.5"/><circle cx="187.9" cy="202.1" r="0.40" fill="#d8d8d8" opacity="0.5"/><circle cx="185.2" cy="198.0" r="0.39" fill="#b8b8c8" opacity="0.5"/><circle cx="171.5" cy="198.2" r="0.34" fill="#c8c8c8" opacity="0.5"/><circle cx="178.0" cy="198.8" r="0.37" fill="#c8c8c8" opacity="0.5"/><circle cx="180.2" cy="204.1" r="0.42" fill="#c8c8c8" opacity="0.5"/><circle cx="179.7" cy="196.0" r="0.44" fill="#c8c8c8" opacity="0.5"/><circle cx="184.1" cy="199.5" r="0.35" fill="#c8c8c8" opacity="0.5"/><circle cx="180.5" cy="201.3" r="0.32" fill="#c8c8c8" opacity="0.5"/><circle cx="186.7" cy="196.8" r="0.37" fill="#c8c8c8" opacity="0.5"/><circle cx="179.5" cy="196.5" r="0.36" fill="#c8c8c8" opacity="0.5"/><circle cx="172.7" cy="197.7" r="0.43" fill="#d8d8d8" opacity="0.5"/><circle cx="188.3" cy="197.6" r="0.32" fill="#d8d8d8" opacity="0.5"/><circle cx="190.5" cy="201.7" r="0.33" fill="#d8d8d8" opacity="0.5"/><circle cx="179.4" cy="197.6" r="0.34" fill="#c8c8c8" opacity="0.5"/><circle cx="171.3" cy="197.9" r="0.43" fill="#c8c8c8" opacity="0.5"/><circle cx="172.5" cy="201.4" r="0.37" fill="#b8b8c8" opacity="0.5"/></g>
<g><circle cx="296.8" cy="195.7" r="0.30" fill="#b8b8c8" opacity="0.5"/><circle cx="295.7" cy="198.3" r="0.31" fill="#d8d8d8" opacity="0.5"/><circle cx="294.4" cy="200.9" r="0.32" fill="#c8c8c8" opacity="0.5"/><circle cx="300.4" cy="196.8" r="0.33" fill="#b8b8c8" opacity="0.5"/><circle cx="302.2" cy="199.9" r="0.34" fill="#c8c8c8" opacity="0.5"/><circle cx="292.7" cy="202.0" r="0.39" fill="#c8c8c8" opacity="0.5"/><circle cx="301.7" cy="196.4" r="0.31" fill="#b8b8c8" opacity="0.5"/><circle cx="300.4" cy="204.1" r="0.44" fill="#b8b8c8" opacity="0.5"/><circle cx="306.2" cy="198.0" r="0.43" fill="#d8d8d8" opacity="0.5"/><circle cx="291.8" cy="198.9" r="0.41" fill="#c8c8c8" opacity="0.5"/><circle cx="307.4" cy="197.2" r="0.33" fill="#d8d8d8" opacity="0.5"/><circle cx="301.5" cy="204.3" r="0.35" fill="#d8d8d8" opacity="0.5"/><circle cx="297.1" cy="196.9" r="0.42" fill="#d8d8d8" opacity="0.5"/><circle cx="305.6" cy="204.4" r="0.39" fill="#c8c8c8" opacity="0.5"/><circle cx="295.8" cy="195.3" r="0.41" fill="#d8d8d8" opacity="0.5"/><circle cx="300.3" cy="200.4" r="0.38" fill="#c8c8c8" opacity="0.5"/><circle cx="294.9" cy="195.1" r="0.39" fill="#c8c8c8" opacity="0.5"/><circle cx="292.1" cy="197.0" r="0.42" fill="#c8c8c8" opacity="0.5"/><circle cx="304.8" cy="197.1" r="0.43" fill="#b8b8c8" opacity="0.5"/><circle cx="301.5" cy="200.3" r="0.41" fill="#c8c8c8" opacity="0.5"/><circle cx="297.0" cy="195.1" r="0.33" fill="#d8d8d8" opacity="0.5"/><circle cx="292.5" cy="199.9" r="0.38" fill="#d8d8d8" opacity="0.5"/><circle cx="307.7" cy="200.5" r="0.33" fill="#c8c8c8" opacity="0.5"/><circle cx="292.9" cy="200.9" r="0.41" fill="#c8c8c8" opacity="0.5"/><circle cx="302.7" cy="202.3" r="0.39" fill="#b8b8c8" opacity="0.5"/><circle cx="300.5" cy="198.7" r="0.44" fill="#d8d8d8" opacity="0.5"/><circle cx="296.8" cy="196.9" r="0.35" fill="#d8d8d8" opacity="0.5"/><circle cx="306.9" cy="200.8" r="0.45" fill="#d8d8d8" opacity="0.5"/><circle cx="306.3" cy="204.2" r="0.31" fill="#b8b8c8" opacity="0.5"/><circle cx="292.9" cy="202.2" r="0.35" fill="#d8d8d8" opacity="0.5"/></g>
<g><circle cx="475.2" cy="45.2" r="0.40" fill="#c8c8c8" opacity="0.5"/><circle cx="480.1" cy="48.9" r="0.43" fill="#c8c8c8" opacity="0.5"/><circle cx="470.5" cy="47.8" r="0.34" fill="#b8b8c8" opacity="0.5"/><circle cx="480.0" cy="47.8" r="0.42" fill="#c8c8c8" opacity="0.5"/><circle cx="479.9" cy="45.5" r="0.38" fill="#d8d8d8" opacity="0.5"/><circle cx="471.8" cy="46.1" r="0.33" fill="#c8c8c8" opacity="0.5"/><circle cx="479.5" cy="49.7" r="0.38" fill="#d8d8d8" opacity="0.5"/><circle cx="471.4" cy="47.5" r="0.44" fill="#d8d8d8" opacity="0.5"/><circle cx="474.7" cy="46.4" r="0.34" fill="#c8c8c8" opacity="0.5"/><circle cx="481.8" cy="48.4" r="0.34" fill="#d8d8d8" opacity="0.5"/><circle cx="479.8" cy="47.4" r="0.40" fill="#c8c8c8" opacity="0.5"/><circle cx="478.8" cy="46.2" r="0.43" fill="#d8d8d8" opacity="0.5"/><circle cx="479.8" cy="46.8" r="0.35" fill="#c8c8c8" opacity="0.5"/><circle cx="475.3" cy="45.1" r="0.38" fill="#b8b8c8" opacity="0.5"/><circle cx="476.3" cy="49.5" r="0.32" fill="#c8c8c8" opacity="0.5"/><circle cx="475.2" cy="46.0" r="0.34" fill="#c8c8c8" opacity="0.5"/><circle cx="474.7" cy="48.6" r="0.32" fill="#c8c8c8" opacity="0.5"/><circle cx="479.7" cy="46.1" r="0.40" fill="#b8b8c8" opacity="0.5"/><circle cx="476.2" cy="46.6" r="0.41" fill="#c8c8c8" opacity="0.5"/><circle cx="478.3" cy="49.9" r="0.40" fill="#c8c8c8" opacity="0.5"/><circle cx="476.7" cy="48.0" r="0.32" fill="#c8c8c8" opacity="0.5"/><circle cx="479.9" cy="49.1" r="0.42" fill="#b8b8c8" opacity="0.5"/><circle cx="474.3" cy="47.8" r="0.39" fill="#b8b8c8" opacity="0.5"/><circle cx="479.4" cy="47.0" r="0.44" fill="#b8b8c8" opacity="0.5"/><circle cx="472.4" cy="49.1" r="0.34" fill="#b8b8c8" opacity="0.5"/><circle cx="479.7" cy="46.3" r="0.37" fill="#d8d8d8" opacity="0.5"/><circle cx="474.6" cy="46.1" r="0.35" fill="#b8b8c8" opacity="0.5"/><circle cx="478.9" cy="46.3" r="0.35" fill="#b8b8c8" opacity="0.5"/><circle cx="483.6" cy="47.0" r="0.37" fill="#c8c8c8" opacity="0.5"/><circle cx="478.6" cy="48.8" r="0.37" fill="#d8d8d8" opacity="0.5"/></g>
<g><circle cx="434.8" cy="28.1" r="0.48" fill="#e0a0f0" opacity="0.5"/><circle cx="438.7" cy="34.3" r="0.35" fill="#e0a0f0" opacity="0.5"/><circle cx="431.0" cy="32.1" r="0.48" fill="#c080e0" opacity="0.5"/><circle cx="438.0" cy="30.6" r="0.41" fill="#e0a0f0" opacity="0.5"/><circle cx="434.4" cy="39.0" r="0.40" fill="#a070e0" opacity="0.5"/><circle cx="436.3" cy="32.2" r="0.39" fill="#c080e0" opacity="0.5"/><circle cx="434.9" cy="31.2" r="0.49" fill="#a070e0" opacity="0.5"/><circle cx="433.1" cy="33.0" r="0.43" fill="#a070e0" opacity="0.5"/><circle cx="430.5" cy="29.3" r="0.38" fill="#e0a0f0" opacity="0.5"/><circle cx="433.4" cy="34.5" r="0.50" fill="#e0a0f0" opacity="0.5"/><circle cx="435.9" cy="36.0" r="0.32" fill="#e0a0f0" opacity="0.5"/><circle cx="437.3" cy="33.2" r="0.32" fill="#e0a0f0" opacity="0.5"/><circle cx="435.9" cy="36.8" r="0.50" fill="#e0a0f0" opacity="0.5"/><circle cx="435.3" cy="33.3" r="0.46" fill="#c080e0" opacity="0.5"/><circle cx="434.0" cy="29.3" r="0.34" fill="#a070e0" opacity="0.5"/><circle cx="434.6" cy="28.3" r="0.41" fill="#a070e0" opacity="0.5"/><circle cx="435.4" cy="27.5" r="0.38" fill="#c080e0" opacity="0.5"/><circle cx="432.1" cy="35.3" r="0.30" fill="#e0a0f0" opacity="0.5"/><circle cx="433.0" cy="28.2" r="0.30" fill="#c080e0" opacity="0.5"/><circle cx="431.0" cy="33.0" r="0.41" fill="#e0a0f0" opacity="0.5"/><circle cx="434.1" cy="28.7" r="0.34" fill="#a070e0" opacity="0.5"/><circle cx="436.6" cy="28.3" r="0.32" fill="#c080e0" opacity="0.5"/><circle cx="438.5" cy="32.9" r="0.39" fill="#e0a0f0" opacity="0.5"/><circle cx="432.2" cy="35.6" r="0.37" fill="#c080e0" opacity="0.5"/><circle cx="429.3" cy="34.5" r="0.47" fill="#a070e0" opacity="0.5"/><circle cx="435.2" cy="27.2" r="0.34" fill="#e0a0f0" opacity="0.5"/><circle cx="434.8" cy="38.5" r="0.39" fill="#a070e0" opacity="0.5"/><circle cx="431.4" cy="29.7" r="0.33" fill="#a070e0" opacity="0.5"/><circle cx="437.5" cy="30.8" r="0.48" fill="#e0a0f0" opacity="0.5"/><circle cx="432.0" cy="34.2" r="0.49" fill="#e0a0f0" opacity="0.5"/><circle cx="435.8" cy="35.1" r="0.42" fill="#e0a0f0" opacity="0.5"/><circle cx="432.1" cy="37.5" r="0.40" fill="#c080e0" opacity="0.5"/><circle cx="437.8" cy="31.8" r="0.37" fill="#e0a0f0" opacity="0.5"/><circle cx="434.3" cy="31.6" r="0.38" fill="#c080e0" opacity="0.5"/><circle cx="438.6" cy="32.1" r="0.48" fill="#a070e0" opacity="0.5"/></g>
<g><circle cx="120.5" cy="202.9" r="0.34" fill="#a090c0" opacity="0.5"/><circle cx="121.6" cy="203.8" r="0.30" fill="#a090c0" opacity="0.5"/><circle cx="120.5" cy="202.3" r="0.33" fill="#a090c0" opacity="0.5"/><circle cx="122.3" cy="205.7" r="0.42" fill="#a090c0" opacity="0.5"/><circle cx="120.0" cy="204.5" r="0.41" fill="#c0b0d8" opacity="0.5"/><circle cx="122.8" cy="206.8" r="0.34" fill="#c0b0d8" opacity="0.5"/><circle cx="122.0" cy="203.3" r="0.37" fill="#a090c0" opacity="0.5"/><circle cx="122.6" cy="205.4" r="0.45" fill="#a090c0" opacity="0.5"/><circle cx="121.4" cy="206.1" r="0.32" fill="#a090c0" opacity="0.5"/><circle cx="123.1" cy="201.9" r="0.43" fill="#c0b0d8" opacity="0.5"/><circle cx="123.3" cy="207.9" r="0.42" fill="#a090c0" opacity="0.5"/><circle cx="120.9" cy="207.6" r="0.32" fill="#c0b0d8" opacity="0.5"/><circle cx="123.8" cy="208.6" r="0.33" fill="#c0b0d8" opacity="0.5"/><circle cx="119.5" cy="203.9" r="0.42" fill="#c0b0d8" opacity="0.5"/><circle cx="120.7" cy="205.0" r="0.44" fill="#a090c0" opacity="0.5"/></g>
<g><circle cx="201.9" cy="207.6" r="0.40" fill="#c8b8e0" opacity="0.5"/><circle cx="202.2" cy="208.9" r="0.31" fill="#c8b8e0" opacity="0.5"/><circle cx="204.9" cy="206.6" r="0.31" fill="#b0a0d0" opacity="0.5"/><circle cx="203.9" cy="203.2" r="0.41" fill="#b0a0d0" opacity="0.5"/><circle cx="202.0" cy="198.5" r="0.35" fill="#b0a0d0" opacity="0.5"/><circle cx="203.5" cy="200.7" r="0.37" fill="#c8b8e0" opacity="0.5"/><circle cx="206.4" cy="206.0" r="0.39" fill="#b0a0d0" opacity="0.5"/><circle cx="199.9" cy="207.2" r="0.40" fill="#b0a0d0" opacity="0.5"/><circle cx="206.0" cy="205.0" r="0.40" fill="#b0a0d0" opacity="0.5"/><circle cx="204.4" cy="198.4" r="0.35" fill="#c8b8e0" opacity="0.5"/><circle cx="205.0" cy="199.0" r="0.40" fill="#c8b8e0" opacity="0.5"/><circle cx="200.8" cy="204.3" r="0.35" fill="#c8b8e0" opacity="0.5"/><circle cx="202.5" cy="202.1" r="0.38" fill="#c8b8e0" opacity="0.5"/><circle cx="203.1" cy="206.1" r="0.33" fill="#b0a0d0" opacity="0.5"/><circle cx="202.9" cy="200.3" r="0.44" fill="#c8b8e0" opacity="0.5"/><circle cx="200.4" cy="200.0" r="0.42" fill="#b0a0d0" opacity="0.5"/><circle cx="203.4" cy="201.0" r="0.31" fill="#c8b8e0" opacity="0.5"/><circle cx="201.8" cy="199.1" r="0.40" fill="#b0a0d0" opacity="0.5"/><circle cx="200.1" cy="206.5" r="0.40" fill="#b0a0d0" opacity="0.5"/><circle cx="204.5" cy="199.6" r="0.40" fill="#c8b8e0" opacity="0.5"/></g>
<g><circle cx="317.8" cy="206.1" r="0.39" fill="#b0a8c8" opacity="0.5"/><circle cx="319.0" cy="207.2" r="0.38" fill="#b0a8c8" opacity="0.5"/><circle cx="321.1" cy="200.5" r="0.45" fill="#c8c0d8" opacity="0.5"/><circle cx="318.7" cy="202.6" r="0.33" fill="#b0a8c8" opacity="0.5"/><circle cx="322.4" cy="202.0" r="0.32" fill="#c8c0d8" opacity="0.5"/><circle cx="319.7" cy="200.1" r="0.35" fill="#c8c0d8" opacity="0.5"/><circle cx="320.4" cy="201.9" r="0.38" fill="#b0a8c8" opacity="0.5"/><circle cx="321.5" cy="199.8" r="0.41" fill="#c8c0d8" opacity="0.5"/><circle cx="317.7" cy="203.9" r="0.37" fill="#b0a8c8" opacity="0.5"/><circle cx="321.7" cy="202.2" r="0.35" fill="#b0a8c8" opacity="0.5"/><circle cx="320.9" cy="205.3" r="0.44" fill="#c8c0d8" opacity="0.5"/><circle cx="320.9" cy="199.8" r="0.41" fill="#b0a8c8" opacity="0.5"/><circle cx="321.6" cy="207.4" r="0.34" fill="#b0a8c8" opacity="0.5"/><circle cx="322.8" cy="204.3" r="0.43" fill="#b0a8c8" opacity="0.5"/><circle cx="317.6" cy="206.2" r="0.35" fill="#c8c0d8" opacity="0.5"/></g>
<text x="366.60" y="0.00" font-size="1" text-anchor="start" font-weight="normal" fill="#111" stroke="#111" stroke-width="0.05" ></text>
<text transform="translate(363.40,52.70) rotate(-90)" x="0" y="0" font-size="7.8" text-anchor="middle" font-weight="normal" fill="#111" stroke="#111" stroke-width="0.12" dominant-baseline="central">CD16</text>
<line x1="370.80" y1="45.50" x2="370.80" y2="61.80" stroke="#222" stroke-width="1" />
<polygon points="369.1,46 372.5,46 370.8,42.3" fill="#222"/>
<line x1="370.80" y1="61.80" x2="386.50" y2="61.80" stroke="#222" stroke-width="1" />
<polygon points="386,60.1 386,63.5 389.6,61.8" fill="#222"/>
<text x="372.00" y="73.20" font-size="7.7" text-anchor="start" font-weight="normal" fill="#111" stroke="#111" stroke-width="0.12" >CD14</text>
<line x1="410.20" y1="73.50" x2="410.20" y2="142.20" stroke="#222" stroke-width="1.1" />
<line x1="409.70" y1="141.70" x2="510.60" y2="141.70" stroke="#777" stroke-width="1.4" />
<line x1="408.20" y1="141.70" x2="410.20" y2="141.70" stroke="#222" stroke-width="0.9" />
<line x1="408.20" y1="107.60" x2="410.20" y2="107.60" stroke="#222" stroke-width="0.9" />
<line x1="408.20" y1="73.50" x2="410.20" y2="73.50" stroke="#222" stroke-width="0.9" />
<line x1="409.00" y1="131.43" x2="410.20" y2="131.43" stroke="#333" stroke-width="0.6" />
<line x1="409.00" y1="125.43" x2="410.20" y2="125.43" stroke="#333" stroke-width="0.6" />
<line x1="409.00" y1="121.17" x2="410.20" y2="121.17" stroke="#333" stroke-width="0.6" />
<line x1="409.00" y1="117.87" x2="410.20" y2="117.87" stroke="#333" stroke-width="0.6" />
<line x1="409.00" y1="115.17" x2="410.20" y2="115.17" stroke="#333" stroke-width="0.6" />
<line x1="409.00" y1="112.88" x2="410.20" y2="112.88" stroke="#333" stroke-width="0.6" />
<line x1="409.00" y1="110.90" x2="410.20" y2="110.90" stroke="#333" stroke-width="0.6" />
<line x1="409.00" y1="109.16" x2="410.20" y2="109.16" stroke="#333" stroke-width="0.6" />
<line x1="409.00" y1="97.33" x2="410.20" y2="97.33" stroke="#333" stroke-width="0.6" />
<line x1="409.00" y1="91.33" x2="410.20" y2="91.33" stroke="#333" stroke-width="0.6" />
<line x1="409.00" y1="87.07" x2="410.20" y2="87.07" stroke="#333" stroke-width="0.6" />
<line x1="409.00" y1="83.77" x2="410.20" y2="83.77" stroke="#333" stroke-width="0.6" />
<line x1="409.00" y1="81.07" x2="410.20" y2="81.07" stroke="#333" stroke-width="0.6" />
<line x1="409.00" y1="78.78" x2="410.20" y2="78.78" stroke="#333" stroke-width="0.6" />
<line x1="409.00" y1="76.80" x2="410.20" y2="76.80" stroke="#333" stroke-width="0.6" />
<line x1="409.00" y1="75.06" x2="410.20" y2="75.06" stroke="#333" stroke-width="0.6" />
<text x="407.20" y="75.90" font-size="6.6" text-anchor="end" font-weight="normal" fill="#111" stroke="#111" stroke-width="0.15" >10</text>
<text x="407.60" y="109.80" font-size="6.3" text-anchor="end" font-weight="normal" fill="#111" stroke="#111" stroke-width="0.05" >1</text>
<text x="407.60" y="143.40" font-size="6.3" text-anchor="end" font-weight="normal" fill="#111" stroke="#111" stroke-width="0.05" letter-spacing="0.5">0.1</text>
<line x1="410.20" y1="141.70" x2="410.20" y2="143.50" stroke="#444" stroke-width="0.8" />
<text x="410.20" y="148.00" font-size="6.3" text-anchor="middle" font-weight="normal" fill="#111" stroke="#111" stroke-width="0.05" >0</text>
<line x1="425.95" y1="141.70" x2="425.95" y2="143.50" stroke="#444" stroke-width="0.8" />
<text x="425.95" y="148.00" font-size="6.3" text-anchor="middle" font-weight="normal" fill="#111" stroke="#111" stroke-width="0.05" >3</text>
<line x1="441.70" y1="141.70" x2="441.70" y2="143.50" stroke="#444" stroke-width="0.8" />
<text x="441.70" y="148.00" font-size="6.3" text-anchor="middle" font-weight="normal" fill="#111" stroke="#111" stroke-width="0.05" >6</text>
<line x1="457.45" y1="141.70" x2="457.45" y2="143.50" stroke="#444" stroke-width="0.8" />
<text x="457.45" y="148.00" font-size="6.3" text-anchor="middle" font-weight="normal" fill="#111" stroke="#111" stroke-width="0.05" >9</text>
<line x1="473.20" y1="141.70" x2="473.20" y2="143.50" stroke="#444" stroke-width="0.8" />
<text x="473.20" y="148.00" font-size="6.3" text-anchor="middle" font-weight="normal" fill="#111" stroke="#111" stroke-width="0.05" >12</text>
<line x1="488.95" y1="141.70" x2="488.95" y2="143.50" stroke="#444" stroke-width="0.8" />
<text x="488.95" y="148.00" font-size="6.3" text-anchor="middle" font-weight="normal" fill="#111" stroke="#111" stroke-width="0.05" >15</text>
<line x1="504.70" y1="141.70" x2="504.70" y2="143.50" stroke="#444" stroke-width="0.8" />
<text x="504.70" y="148.00" font-size="6.3" text-anchor="middle" font-weight="normal" fill="#111" stroke="#111" stroke-width="0.05" >18</text>
<text x="463.20" y="156.00" font-size="6.9" text-anchor="middle" font-weight="normal" fill="#111" stroke="#111" stroke-width="0.15" >Months</text>
<text transform="translate(391.60,117.20) rotate(-90)" x="0" y="0" font-size="7.05" text-anchor="middle" font-weight="normal" fill="#111" stroke="#111" stroke-width="0.18" dominant-baseline="central">Monocyte count (×10<tspan baseline-shift="super" font-size="4.2">9</tspan>/L)</text>
<line x1="411.20" y1="107.70" x2="514.00" y2="107.70" stroke="#222" stroke-width="1.05" stroke-dasharray="1.5 1.5"/>
<polyline points="410.50,94.30 442.60,101.00 506.30,112.00" fill="none" stroke="#222" stroke-width="1" stroke-linejoin="round" />
<circle cx="442.60" cy="101.00" r="1.1" fill="#111"/>
<circle cx="506.30" cy="112.00" r="1.2" fill="#111"/>
<line x1="414.30" y1="69.50" x2="414.30" y2="85.50" stroke="#111" stroke-width="1" />
<polygon points="412.50,85.00 416.10,85.00 414.30,90.00" fill="#111"/>
<line x1="504.10" y1="69.50" x2="504.10" y2="103.30" stroke="#111" stroke-width="1" />
<polygon points="502.30,102.80 505.90,102.80 504.10,107.80" fill="#111"/>
<text x="63.60" y="176.10" font-size="10.5" text-anchor="start" font-weight="bold" fill="#000" stroke="#000" stroke-width="0.12" >D</text>
<text transform="translate(66.30,222.70) rotate(-90)" x="0" y="0" font-size="7.6" text-anchor="middle" font-weight="normal" fill="#111" stroke="#111" stroke-width="0.12" dominant-baseline="central">CD16</text>
<line x1="72.50" y1="214.50" x2="72.50" y2="231.00" stroke="#222" stroke-width="1" />
<polygon points="70.8,215 74.2,215 72.5,211.3" fill="#222"/>
<line x1="72.50" y1="231.00" x2="87.30" y2="231.00" stroke="#222" stroke-width="1" />
<polygon points="86.8,229.3 86.8,232.7 90.4,231" fill="#222"/>
<text x="73.60" y="242.00" font-size="7.4" text-anchor="start" font-weight="normal" fill="#111" stroke="#111" stroke-width="0.12" >CD14</text>
<line x1="108.50" y1="242.00" x2="108.50" y2="307.50" stroke="#222" stroke-width="1.1" />
<line x1="108.00" y1="307.00" x2="209.60" y2="307.00" stroke="#777" stroke-width="1.3" />
<line x1="106.50" y1="307.00" x2="108.50" y2="307.00" stroke="#222" stroke-width="0.9" />
<line x1="106.50" y1="274.50" x2="108.50" y2="274.50" stroke="#222" stroke-width="0.9" />
<line x1="106.50" y1="242.00" x2="108.50" y2="242.00" stroke="#222" stroke-width="0.9" />
<line x1="107.30" y1="297.22" x2="108.50" y2="297.22" stroke="#333" stroke-width="0.6" />
<line x1="107.30" y1="291.49" x2="108.50" y2="291.49" stroke="#333" stroke-width="0.6" />
<line x1="107.30" y1="287.43" x2="108.50" y2="287.43" stroke="#333" stroke-width="0.6" />
<line x1="107.30" y1="284.28" x2="108.50" y2="284.28" stroke="#333" stroke-width="0.6" />
<line x1="107.30" y1="281.71" x2="108.50" y2="281.71" stroke="#333" stroke-width="0.6" />
<line x1="107.30" y1="279.53" x2="108.50" y2="279.53" stroke="#333" stroke-width="0.6" />
<line x1="107.30" y1="277.65" x2="108.50" y2="277.65" stroke="#333" stroke-width="0.6" />
<line x1="107.30" y1="275.99" x2="108.50" y2="275.99" stroke="#333" stroke-width="0.6" />
<line x1="107.30" y1="264.72" x2="108.50" y2="264.72" stroke="#333" stroke-width="0.6" />
<line x1="107.30" y1="258.99" x2="108.50" y2="258.99" stroke="#333" stroke-width="0.6" />
<line x1="107.30" y1="254.93" x2="108.50" y2="254.93" stroke="#333" stroke-width="0.6" />
<line x1="107.30" y1="251.78" x2="108.50" y2="251.78" stroke="#333" stroke-width="0.6" />
<line x1="107.30" y1="249.21" x2="108.50" y2="249.21" stroke="#333" stroke-width="0.6" />
<line x1="107.30" y1="247.03" x2="108.50" y2="247.03" stroke="#333" stroke-width="0.6" />
<line x1="107.30" y1="245.15" x2="108.50" y2="245.15" stroke="#333" stroke-width="0.6" />
<line x1="107.30" y1="243.49" x2="108.50" y2="243.49" stroke="#333" stroke-width="0.6" />
<text x="105.60" y="244.80" font-size="6.8" text-anchor="end" font-weight="normal" fill="#111" stroke="#111" stroke-width="0.15" >10</text>
<text x="105.30" y="277.90" font-size="6.8" text-anchor="end" font-weight="normal" fill="#111" stroke="#111" stroke-width="0.15" >1</text>
<text x="105.40" y="309.20" font-size="6.6" text-anchor="end" font-weight="normal" fill="#111" stroke="#111" stroke-width="0.15" >0.1</text>
<line x1="108.50" y1="307.00" x2="108.50" y2="308.80" stroke="#444" stroke-width="0.8" />
<text x="108.50" y="315.50" font-size="6.4" text-anchor="middle" font-weight="normal" fill="#111" stroke="#111" stroke-width="0.05" >0</text>
<line x1="121.00" y1="307.00" x2="121.00" y2="308.80" stroke="#444" stroke-width="0.8" />
<text x="121.00" y="315.50" font-size="6.4" text-anchor="middle" font-weight="normal" fill="#111" stroke="#111" stroke-width="0.05" >3</text>
<line x1="133.50" y1="307.00" x2="133.50" y2="308.80" stroke="#444" stroke-width="0.8" />
<text x="133.50" y="315.50" font-size="6.4" text-anchor="middle" font-weight="normal" fill="#111" stroke="#111" stroke-width="0.05" >6</text>
<line x1="146.00" y1="307.00" x2="146.00" y2="308.80" stroke="#444" stroke-width="0.8" />
<text x="146.00" y="315.50" font-size="6.4" text-anchor="middle" font-weight="normal" fill="#111" stroke="#111" stroke-width="0.05" >9</text>
<line x1="158.50" y1="307.00" x2="158.50" y2="308.80" stroke="#444" stroke-width="0.8" />
<text x="158.50" y="315.50" font-size="6.4" text-anchor="middle" font-weight="normal" fill="#111" stroke="#111" stroke-width="0.05" >12</text>
<line x1="171.00" y1="307.00" x2="171.00" y2="308.80" stroke="#444" stroke-width="0.8" />
<text x="171.00" y="315.50" font-size="6.4" text-anchor="middle" font-weight="normal" fill="#111" stroke="#111" stroke-width="0.05" >15</text>
<line x1="183.50" y1="307.00" x2="183.50" y2="308.80" stroke="#444" stroke-width="0.8" />
<text x="183.50" y="315.50" font-size="6.4" text-anchor="middle" font-weight="normal" fill="#111" stroke="#111" stroke-width="0.05" >18</text>
<line x1="196.00" y1="307.00" x2="196.00" y2="308.80" stroke="#444" stroke-width="0.8" />
<text x="196.00" y="315.50" font-size="6.4" text-anchor="middle" font-weight="normal" fill="#111" stroke="#111" stroke-width="0.05" >21</text>
<line x1="208.50" y1="307.00" x2="208.50" y2="308.80" stroke="#444" stroke-width="0.8" />
<text x="208.50" y="315.50" font-size="6.4" text-anchor="middle" font-weight="normal" fill="#111" stroke="#111" stroke-width="0.05" >24</text>
<text x="159.60" y="325.40" font-size="6.9" text-anchor="middle" font-weight="normal" fill="#111" stroke="#111" stroke-width="0.15" >Months</text>
<text transform="translate(91.00,286.00) rotate(-90)" x="0" y="0" font-size="7.2" text-anchor="middle" font-weight="normal" fill="#111" stroke="#111" stroke-width="0.18" dominant-baseline="central">Monocyte count (×10<tspan baseline-shift="super" font-size="4.3">9</tspan>/L)</text>
<line x1="109.50" y1="275.80" x2="209.00" y2="275.80" stroke="#222" stroke-width="1.05" stroke-dasharray="1.5 1.5"/>
<polyline points="108.60,258.90 116.60,268.60 167.40,276.60 183.80,263.80 192.00,246.80" fill="none" stroke="#111" stroke-width="1.15" stroke-linejoin="round" />
<circle cx="116.60" cy="268.60" r="1.2" fill="#111"/>
<circle cx="167.40" cy="276.60" r="1.2" fill="#111"/>
<circle cx="183.80" cy="263.80" r="1.2" fill="#111"/>
<circle cx="192.00" cy="246.80" r="1.2" fill="#111"/>
<line x1="113.90" y1="242.00" x2="113.90" y2="258.60" stroke="#111" stroke-width="1" />
<polygon points="112.10,258.10 115.70,258.10 113.90,263.10" fill="#111"/>
<line x1="182.90" y1="242.00" x2="182.90" y2="257.50" stroke="#111" stroke-width="1" />
<polygon points="181.10,257.00 184.70,257.00 182.90,262.00" fill="#111"/>
<text x="241.20" y="176.10" font-size="10.5" text-anchor="start" font-weight="bold" fill="#000" stroke="#000" stroke-width="0.12" >E</text>
<text transform="translate(243.70,225.90) rotate(-90)" x="0" y="0" font-size="8.2" text-anchor="middle" font-weight="normal" fill="#111" stroke="#111" stroke-width="0.12" dominant-baseline="central">CD16</text>
<line x1="251.10" y1="218.20" x2="251.10" y2="234.90" stroke="#222" stroke-width="1" />
<polygon points="249.4,218.7 252.8,218.7 251.1,214.9" fill="#222"/>
<line x1="251.10" y1="234.90" x2="266.20" y2="234.90" stroke="#222" stroke-width="1" />
<polygon points="265.8,233.2 265.8,236.6 269.5,234.9" fill="#222"/>
<text x="252.00" y="246.20" font-size="8.0" text-anchor="start" font-weight="normal" fill="#111" stroke="#111" stroke-width="0.12" >CD14</text>
<line x1="309.00" y1="248.50" x2="309.00" y2="314.70" stroke="#555" stroke-width="1.3" />
<line x1="308.50" y1="314.20" x2="434.60" y2="314.20" stroke="#7a7a7a" stroke-width="1.3" />
<line x1="307.00" y1="314.20" x2="309.00" y2="314.20" stroke="#333" stroke-width="0.9" />
<line x1="307.00" y1="281.35" x2="309.00" y2="281.35" stroke="#333" stroke-width="0.9" />
<line x1="307.00" y1="248.50" x2="309.00" y2="248.50" stroke="#333" stroke-width="0.9" />
<line x1="307.80" y1="304.31" x2="309.00" y2="304.31" stroke="#555" stroke-width="0.6" />
<line x1="307.80" y1="298.53" x2="309.00" y2="298.53" stroke="#555" stroke-width="0.6" />
<line x1="307.80" y1="294.42" x2="309.00" y2="294.42" stroke="#555" stroke-width="0.6" />
<line x1="307.80" y1="291.24" x2="309.00" y2="291.24" stroke="#555" stroke-width="0.6" />
<line x1="307.80" y1="288.64" x2="309.00" y2="288.64" stroke="#555" stroke-width="0.6" />
<line x1="307.80" y1="286.44" x2="309.00" y2="286.44" stroke="#555" stroke-width="0.6" />
<line x1="307.80" y1="284.53" x2="309.00" y2="284.53" stroke="#555" stroke-width="0.6" />
<line x1="307.80" y1="282.85" x2="309.00" y2="282.85" stroke="#555" stroke-width="0.6" />
<line x1="307.80" y1="271.46" x2="309.00" y2="271.46" stroke="#555" stroke-width="0.6" />
<line x1="307.80" y1="265.68" x2="309.00" y2="265.68" stroke="#555" stroke-width="0.6" />
<line x1="307.80" y1="261.57" x2="309.00" y2="261.57" stroke="#555" stroke-width="0.6" />
<line x1="307.80" y1="258.39" x2="309.00" y2="258.39" stroke="#555" stroke-width="0.6" />
<line x1="307.80" y1="255.79" x2="309.00" y2="255.79" stroke="#555" stroke-width="0.6" />
<line x1="307.80" y1="253.59" x2="309.00" y2="253.59" stroke="#555" stroke-width="0.6" />
<line x1="307.80" y1="251.68" x2="309.00" y2="251.68" stroke="#555" stroke-width="0.6" />
<line x1="307.80" y1="250.00" x2="309.00" y2="250.00" stroke="#555" stroke-width="0.6" />
<text x="306.50" y="250.70" font-size="5.6" text-anchor="end" font-weight="normal" fill="#111" stroke="#111" stroke-width="0.05" >10</text>
<text x="306.60" y="283.40" font-size="5.6" text-anchor="end" font-weight="normal" fill="#111" stroke="#111" stroke-width="0.05" >1</text>
<text x="307.30" y="316.00" font-size="5.6" text-anchor="end" font-weight="normal" fill="#111" stroke="#111" stroke-width="0.05" >0.1</text>
<line x1="309.00" y1="314.20" x2="309.00" y2="315.80" stroke="#555" stroke-width="0.8" />
<text x="309.00" y="319.60" font-size="5.8" text-anchor="middle" font-weight="normal" fill="#111" stroke="#111" stroke-width="0.05" >0</text>
<line x1="322.95" y1="314.20" x2="322.95" y2="315.80" stroke="#555" stroke-width="0.8" />
<text x="322.95" y="319.60" font-size="5.8" text-anchor="middle" font-weight="normal" fill="#111" stroke="#111" stroke-width="0.05" >3</text>
<line x1="336.90" y1="314.20" x2="336.90" y2="315.80" stroke="#555" stroke-width="0.8" />
<text x="336.90" y="319.60" font-size="5.8" text-anchor="middle" font-weight="normal" fill="#111" stroke="#111" stroke-width="0.05" >6</text>
<line x1="350.85" y1="314.20" x2="350.85" y2="315.80" stroke="#555" stroke-width="0.8" />
<text x="350.85" y="319.60" font-size="5.8" text-anchor="middle" font-weight="normal" fill="#111" stroke="#111" stroke-width="0.05" >9</text>
<line x1="364.80" y1="314.20" x2="364.80" y2="315.80" stroke="#555" stroke-width="0.8" />
<text x="364.80" y="319.60" font-size="5.8" text-anchor="middle" font-weight="normal" fill="#111" stroke="#111" stroke-width="0.05" >12</text>
<line x1="378.75" y1="314.20" x2="378.75" y2="315.80" stroke="#555" stroke-width="0.8" />
<text x="378.75" y="319.60" font-size="5.8" text-anchor="middle" font-weight="normal" fill="#111" stroke="#111" stroke-width="0.05" >15</text>
<line x1="392.70" y1="314.20" x2="392.70" y2="315.80" stroke="#555" stroke-width="0.8" />
<text x="392.70" y="319.60" font-size="5.8" text-anchor="middle" font-weight="normal" fill="#111" stroke="#111" stroke-width="0.05" >18</text>
<line x1="406.65" y1="314.20" x2="406.65" y2="315.80" stroke="#555" stroke-width="0.8" />
<text x="406.65" y="319.60" font-size="5.8" text-anchor="middle" font-weight="normal" fill="#111" stroke="#111" stroke-width="0.05" >21</text>
<line x1="420.60" y1="314.20" x2="420.60" y2="315.80" stroke="#555" stroke-width="0.8" />
<text x="420.60" y="319.60" font-size="5.8" text-anchor="middle" font-weight="normal" fill="#111" stroke="#111" stroke-width="0.05" >24</text>
<line x1="434.55" y1="314.20" x2="434.55" y2="315.80" stroke="#555" stroke-width="0.8" />
<text x="434.55" y="319.60" font-size="5.8" text-anchor="middle" font-weight="normal" fill="#111" stroke="#111" stroke-width="0.05" >27</text>
<text x="371.40" y="326.30" font-size="5.9" text-anchor="middle" font-weight="normal" fill="#111" stroke="#111" stroke-width="0.05" >Months</text>
<text transform="translate(287.70,285.30) rotate(-90)" x="0" y="0" font-size="7.05" text-anchor="middle" font-weight="normal" fill="#111" stroke="#111" stroke-width="0.18" dominant-baseline="central">Monocyte count (×10<tspan baseline-shift="super" font-size="4.2">9</tspan>/L)</text>
<line x1="310.00" y1="281.40" x2="436.80" y2="281.40" stroke="#222" stroke-width="1.05" stroke-dasharray="1.5 1.5"/>
<polyline points="308.90,263.20 327.70,262.60 337.20,254.70 365.10,298.20 374.40,290.60 383.40,275.20 392.40,298.20 402.50,288.40 429.80,274.30" fill="none" stroke="#111" stroke-width="1.0" stroke-linejoin="round" />
<circle cx="327.70" cy="262.60" r="0.9" fill="#111"/>
<circle cx="337.20" cy="254.70" r="0.9" fill="#111"/>
<circle cx="365.10" cy="298.20" r="0.9" fill="#111"/>
<circle cx="374.40" cy="290.60" r="0.9" fill="#111"/>
<circle cx="383.40" cy="275.20" r="0.9" fill="#111"/>
<circle cx="392.40" cy="298.20" r="0.9" fill="#111"/>
<circle cx="402.50" cy="288.40" r="0.9" fill="#111"/>
<circle cx="429.80" cy="274.30" r="0.9" fill="#111"/>
<line x1="315.10" y1="237.00" x2="315.10" y2="255.90" stroke="#111" stroke-width="1" />
<polygon points="313.30,255.40 316.90,255.40 315.10,260.40" fill="#111"/>
<line x1="365.70" y1="237.00" x2="365.70" y2="283.30" stroke="#111" stroke-width="1" />
<polygon points="363.90,282.80 367.50,282.80 365.70,287.80" fill="#111"/>
<line x1="430.60" y1="237.50" x2="430.60" y2="266.50" stroke="#111" stroke-width="1" />
<polygon points="428.80,266.00 432.40,266.00 430.60,271.00" fill="#111"/>
</svg>
</body></html>
